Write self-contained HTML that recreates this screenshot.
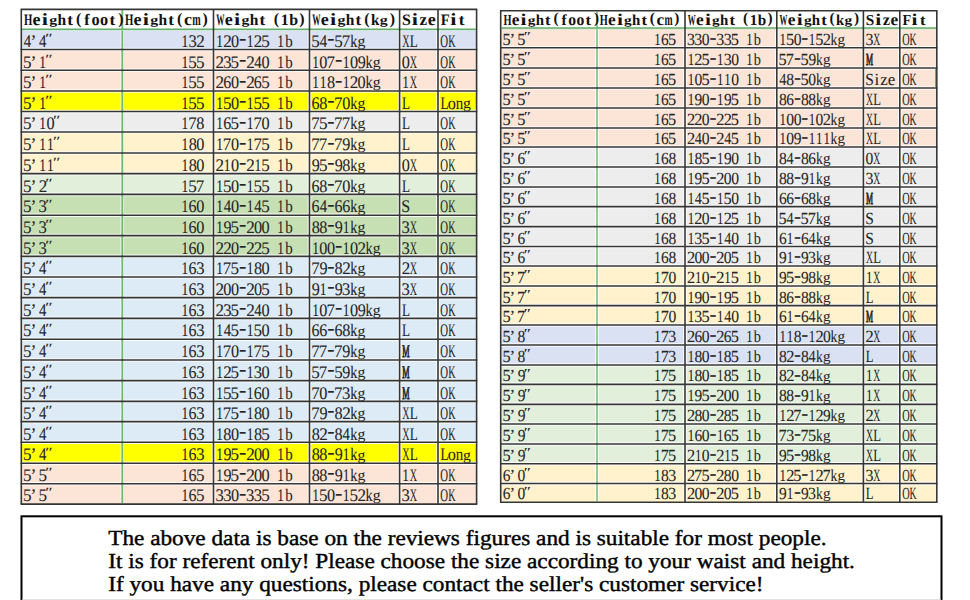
<!DOCTYPE html><html><head><meta charset="utf-8"><style>html,body{margin:0;padding:0;background:#fff;overflow:hidden}svg{display:block}</style></head><body>
<svg width="970" height="600" viewBox="0 0 970 600" text-rendering="geometricPrecision">
<rect width="970" height="600" fill="#fff"/>
<rect x="21.3" y="9.4" width="455.3" height="19.799999999999997" fill="#fff"/>
<rect x="21.3" y="29.2" width="455.3" height="20.30" fill="#d9e1f2"/>
<rect x="21.3" y="49.5" width="455.3" height="20.80" fill="#fce4d6"/>
<rect x="21.3" y="70.3" width="455.3" height="20.70" fill="#fce4d6"/>
<rect x="21.3" y="91" width="455.3" height="20.50" fill="#ffff00"/>
<rect x="21.3" y="111.5" width="455.3" height="20.50" fill="#ededed"/>
<rect x="21.3" y="132" width="455.3" height="21.00" fill="#fff2cc"/>
<rect x="21.3" y="153" width="455.3" height="20.60" fill="#fff2cc"/>
<rect x="21.3" y="173.6" width="455.3" height="20.80" fill="#e2efda"/>
<rect x="21.3" y="194.4" width="455.3" height="20.80" fill="#c6e0b4"/>
<rect x="21.3" y="215.2" width="455.3" height="20.40" fill="#c6e0b4"/>
<rect x="21.3" y="235.6" width="455.3" height="20.80" fill="#c6e0b4"/>
<rect x="21.3" y="256.4" width="455.3" height="20.60" fill="#ddebf7"/>
<rect x="21.3" y="277" width="455.3" height="20.60" fill="#ddebf7"/>
<rect x="21.3" y="297.6" width="455.3" height="20.80" fill="#ddebf7"/>
<rect x="21.3" y="318.4" width="455.3" height="20.80" fill="#ddebf7"/>
<rect x="21.3" y="339.2" width="455.3" height="20.80" fill="#ddebf7"/>
<rect x="21.3" y="360" width="455.3" height="20.60" fill="#ddebf7"/>
<rect x="21.3" y="380.6" width="455.3" height="20.80" fill="#ddebf7"/>
<rect x="21.3" y="401.4" width="455.3" height="20.20" fill="#ddebf7"/>
<rect x="21.3" y="421.6" width="455.3" height="20.70" fill="#ddebf7"/>
<rect x="21.3" y="442.3" width="455.3" height="20.90" fill="#ffff00"/>
<rect x="21.3" y="463.2" width="455.3" height="20.60" fill="#fce4d6"/>
<rect x="21.3" y="483.8" width="455.3" height="20.30" fill="#fce4d6"/>
<g stroke="#fff" stroke-width="3.6" fill="none" opacity="0.85">
<line x1="21.3" y1="49.5" x2="476.6" y2="49.5"/>
<line x1="21.3" y1="70.3" x2="476.6" y2="70.3"/>
<line x1="21.3" y1="91" x2="476.6" y2="91"/>
<line x1="21.3" y1="111.5" x2="476.6" y2="111.5"/>
<line x1="21.3" y1="132" x2="476.6" y2="132"/>
<line x1="21.3" y1="153" x2="476.6" y2="153"/>
<line x1="21.3" y1="173.6" x2="476.6" y2="173.6"/>
<line x1="21.3" y1="194.4" x2="476.6" y2="194.4"/>
<line x1="21.3" y1="215.2" x2="476.6" y2="215.2"/>
<line x1="21.3" y1="235.6" x2="476.6" y2="235.6"/>
<line x1="21.3" y1="256.4" x2="476.6" y2="256.4"/>
<line x1="21.3" y1="277" x2="476.6" y2="277"/>
<line x1="21.3" y1="297.6" x2="476.6" y2="297.6"/>
<line x1="21.3" y1="318.4" x2="476.6" y2="318.4"/>
<line x1="21.3" y1="339.2" x2="476.6" y2="339.2"/>
<line x1="21.3" y1="360" x2="476.6" y2="360"/>
<line x1="21.3" y1="380.6" x2="476.6" y2="380.6"/>
<line x1="21.3" y1="401.4" x2="476.6" y2="401.4"/>
<line x1="21.3" y1="421.6" x2="476.6" y2="421.6"/>
<line x1="21.3" y1="442.3" x2="476.6" y2="442.3"/>
<line x1="21.3" y1="463.2" x2="476.6" y2="463.2"/>
<line x1="21.3" y1="483.8" x2="476.6" y2="483.8"/>
<line x1="122.3" y1="29.2" x2="122.3" y2="504.1"/>
<line x1="213.5" y1="29.2" x2="213.5" y2="504.1"/>
<line x1="309.5" y1="29.2" x2="309.5" y2="504.1"/>
<line x1="399.6" y1="29.2" x2="399.6" y2="504.1"/>
<line x1="438.0" y1="29.2" x2="438.0" y2="504.1"/>
</g>
<line x1="122.3" y1="10.200000000000001" x2="122.3" y2="503.3" stroke="#6cbd70" stroke-width="1.9"/>
<line x1="22.1" y1="30.099999999999998" x2="475.8" y2="30.099999999999998" stroke="#c6ecd0" stroke-width="1"/>
<line x1="22.1" y1="29.2" x2="475.8" y2="29.2" stroke="#62ac6c" stroke-width="1.5"/>
<g stroke="#363636" stroke-width="1.6" fill="none">
<line x1="20.6" y1="9.4" x2="477.3" y2="9.4"/>
<line x1="20.6" y1="49.5" x2="477.3" y2="49.5"/>
<line x1="20.6" y1="70.3" x2="477.3" y2="70.3"/>
<line x1="20.6" y1="91" x2="477.3" y2="91"/>
<line x1="20.6" y1="111.5" x2="477.3" y2="111.5"/>
<line x1="20.6" y1="132" x2="477.3" y2="132"/>
<line x1="20.6" y1="153" x2="477.3" y2="153"/>
<line x1="20.6" y1="173.6" x2="477.3" y2="173.6"/>
<line x1="20.6" y1="194.4" x2="477.3" y2="194.4"/>
<line x1="20.6" y1="215.2" x2="477.3" y2="215.2"/>
<line x1="20.6" y1="235.6" x2="477.3" y2="235.6"/>
<line x1="20.6" y1="256.4" x2="477.3" y2="256.4"/>
<line x1="20.6" y1="277" x2="477.3" y2="277"/>
<line x1="20.6" y1="297.6" x2="477.3" y2="297.6"/>
<line x1="20.6" y1="318.4" x2="477.3" y2="318.4"/>
<line x1="20.6" y1="339.2" x2="477.3" y2="339.2"/>
<line x1="20.6" y1="360" x2="477.3" y2="360"/>
<line x1="20.6" y1="380.6" x2="477.3" y2="380.6"/>
<line x1="20.6" y1="401.4" x2="477.3" y2="401.4"/>
<line x1="20.6" y1="421.6" x2="477.3" y2="421.6"/>
<line x1="20.6" y1="442.3" x2="477.3" y2="442.3"/>
<line x1="20.6" y1="463.2" x2="477.3" y2="463.2"/>
<line x1="20.6" y1="483.8" x2="477.3" y2="483.8"/>
<line x1="20.6" y1="504.1" x2="477.3" y2="504.1"/>
<line x1="21.3" y1="9.4" x2="21.3" y2="504.1"/>
<line x1="213.5" y1="9.4" x2="213.5" y2="504.1"/>
<line x1="309.5" y1="9.4" x2="309.5" y2="504.1"/>
<line x1="399.6" y1="9.4" x2="399.6" y2="504.1"/>
<line x1="438.0" y1="9.4" x2="438.0" y2="504.1"/>
<line x1="476.6" y1="9.4" x2="476.6" y2="504.1"/>
</g>
<g font-family="Liberation Serif, serif" font-weight="bold" font-size="15.9" fill="#111">
<text transform="translate(24.03,25.30) scale(0.676,1)">H</text>
<text transform="translate(32.56,25.30) scale(1.131,1.08)">e</text>
<text transform="translate(41.87,25.30) scale(1.404,1.08)">i</text>
<text transform="translate(49.36,23.90) scale(1.000,0.78)">g</text>
<text transform="translate(57.50,25.30) scale(0.975,1)">h</text>
<text transform="translate(67.34,25.30) scale(1.084,1)">t</text>
<text x="75.99" y="23.70">(</text>
<text transform="translate(84.34,25.30) scale(1.010,1)">f</text>
<text transform="translate(91.50,25.30) scale(1.025,1.08)">o</text>
<text transform="translate(99.92,25.30) scale(1.025,1.08)">o</text>
<text transform="translate(109.44,25.30) scale(1.084,1)">t</text>
<text x="118.28" y="23.70">)</text>
<text transform="translate(125.03,25.30) scale(0.676,1)">H</text>
<text transform="translate(133.56,25.30) scale(1.131,1.08)">e</text>
<text transform="translate(142.87,25.30) scale(1.404,1.08)">i</text>
<text transform="translate(150.36,23.90) scale(1.000,0.78)">g</text>
<text transform="translate(158.50,25.30) scale(0.975,1)">h</text>
<text transform="translate(168.34,25.30) scale(1.084,1)">t</text>
<text x="176.99" y="23.70">(</text>
<text transform="translate(184.08,25.30) scale(1.129,1.08)">c</text>
<text transform="translate(192.30,25.30) scale(0.638,1.08)">m</text>
<text x="202.44" y="23.70">)</text>
<text transform="translate(216.29,25.30) scale(0.519,1)">W</text>
<text transform="translate(224.76,25.30) scale(1.131,1.08)">e</text>
<text transform="translate(234.07,25.30) scale(1.404,1.08)">i</text>
<text transform="translate(241.56,23.90) scale(1.000,0.78)">g</text>
<text transform="translate(249.70,25.30) scale(0.975,1)">h</text>
<text transform="translate(259.54,25.30) scale(1.084,1)">t</text>
<text x="273.75" y="23.70">(</text>
<text x="299.19" y="23.70">)</text>
<text x="280.71 289.13" y="25.30">1b</text>
<text transform="translate(312.29,25.30) scale(0.519,1)">W</text>
<text transform="translate(320.76,25.30) scale(1.131,1.08)">e</text>
<text transform="translate(330.07,25.30) scale(1.404,1.08)">i</text>
<text transform="translate(337.56,23.90) scale(1.000,0.78)">g</text>
<text transform="translate(345.70,25.30) scale(0.975,1)">h</text>
<text transform="translate(355.54,25.30) scale(1.084,1)">t</text>
<text x="364.19" y="23.70">(</text>
<text transform="translate(370.97,25.30) scale(0.950,1)">k</text>
<text transform="translate(379.66,23.90) scale(1.000,0.78)">g</text>
<text x="389.64" y="23.70">)</text>
<text transform="translate(411.75,25.30) scale(1.404,1.08)">i</text>
<text transform="translate(419.56,25.30) scale(1.079,1.08)">z</text>
<text transform="translate(427.70,25.30) scale(1.131,1.08)">e</text>
<text x="402.00" y="25.30">S</text>
<text transform="translate(440.66,25.30) scale(0.922,1)">F</text>
<text transform="translate(450.15,25.30) scale(1.404,1.08)">i</text>
<text transform="translate(458.78,25.30) scale(1.084,1)">t</text>
</g>
<g font-family="Liberation Serif, serif" font-size="17.7" fill="#262626" stroke="#262626" stroke-width="0.08">
<text transform="translate(23.79,46.70) scale(0.837,1)">4</text>
<text transform="translate(39.09,46.70) scale(0.837,1)">4</text>
<text transform="translate(45.26,42.89) scale(1.000,0.8)">″</text>
<text x="30.39" y="46.70">’</text>
<text transform="translate(181.52,46.70) scale(0.761,1)">1</text>
<text transform="translate(188.48,46.70) scale(0.942,1)">3</text>
<text transform="translate(196.18,46.70) scale(0.970,1)">2</text>
<text transform="translate(216.17,46.70) scale(0.761,1)">1</text>
<text transform="translate(223.18,46.70) scale(0.970,1)">2</text>
<text transform="translate(230.96,46.70) scale(0.918,1)">0</text>
<text transform="translate(239.01,45.12) scale(1.240,1.25)">-</text>
<text transform="translate(246.77,46.70) scale(0.761,1)">1</text>
<text transform="translate(253.78,46.70) scale(0.970,1)">2</text>
<text transform="translate(261.19,46.70) scale(0.966,1)">5</text>
<text transform="translate(277.37,46.70) scale(0.761,1)">1</text>
<text transform="translate(285.13,46.70) scale(0.842,1)">b</text>
<text transform="translate(311.29,46.70) scale(0.966,1)">5</text>
<text transform="translate(319.64,46.70) scale(0.837,1)">4</text>
<text transform="translate(327.36,45.12) scale(1.240,1.25)">-</text>
<text transform="translate(334.24,46.70) scale(0.966,1)">5</text>
<text transform="translate(341.76,46.70) scale(0.960,1)">7</text>
<text transform="translate(350.26,46.70) scale(0.809,1)">k</text>
<text transform="translate(357.51,45.80) scale(0.888,0.85)">g</text>
<text transform="translate(402.16,46.70) scale(0.570,1)">X</text>
<text transform="translate(409.65,46.70) scale(0.745,1)">L</text>
<text transform="translate(440.34,46.70) scale(0.608,1)">O</text>
<text transform="translate(448.14,46.70) scale(0.569,1)">K</text>
<text transform="translate(23.09,67.50) scale(0.966,1)">5</text>
<text transform="translate(39.27,67.50) scale(0.761,1)">1</text>
<text transform="translate(45.26,63.69) scale(1.000,0.8)">″</text>
<text x="30.39" y="67.50">’</text>
<text transform="translate(181.52,67.50) scale(0.761,1)">1</text>
<text transform="translate(188.29,67.50) scale(0.966,1)">5</text>
<text transform="translate(195.94,67.50) scale(0.966,1)">5</text>
<text transform="translate(215.53,67.50) scale(0.970,1)">2</text>
<text transform="translate(223.13,67.50) scale(0.942,1)">3</text>
<text transform="translate(230.59,67.50) scale(0.966,1)">5</text>
<text transform="translate(239.01,65.92) scale(1.240,1.25)">-</text>
<text transform="translate(246.13,67.50) scale(0.970,1)">2</text>
<text transform="translate(254.24,67.50) scale(0.837,1)">4</text>
<text transform="translate(261.56,67.50) scale(0.918,1)">0</text>
<text transform="translate(277.37,67.50) scale(0.761,1)">1</text>
<text transform="translate(285.13,67.50) scale(0.842,1)">b</text>
<text transform="translate(312.17,67.50) scale(0.761,1)">1</text>
<text transform="translate(319.31,67.50) scale(0.918,1)">0</text>
<text transform="translate(326.46,67.50) scale(0.960,1)">7</text>
<text transform="translate(335.01,65.92) scale(1.240,1.25)">-</text>
<text transform="translate(342.77,67.50) scale(0.761,1)">1</text>
<text transform="translate(349.91,67.50) scale(0.918,1)">0</text>
<text transform="translate(357.66,67.50) scale(0.911,1)">9</text>
<text transform="translate(365.56,67.50) scale(0.809,1)">k</text>
<text transform="translate(372.81,66.60) scale(0.888,0.85)">g</text>
<text transform="translate(401.76,67.50) scale(0.918,1)">0</text>
<text transform="translate(409.81,67.50) scale(0.570,1)">X</text>
<text transform="translate(440.34,67.50) scale(0.608,1)">O</text>
<text transform="translate(448.14,67.50) scale(0.569,1)">K</text>
<text transform="translate(23.09,88.20) scale(0.966,1)">5</text>
<text transform="translate(39.27,88.20) scale(0.761,1)">1</text>
<text transform="translate(45.26,84.39) scale(1.000,0.8)">″</text>
<text x="30.39" y="88.20">’</text>
<text transform="translate(181.52,88.20) scale(0.761,1)">1</text>
<text transform="translate(188.29,88.20) scale(0.966,1)">5</text>
<text transform="translate(195.94,88.20) scale(0.966,1)">5</text>
<text transform="translate(215.53,88.20) scale(0.970,1)">2</text>
<text transform="translate(223.24,88.20) scale(0.910,1)">6</text>
<text transform="translate(230.96,88.20) scale(0.918,1)">0</text>
<text transform="translate(239.01,86.62) scale(1.240,1.25)">-</text>
<text transform="translate(246.13,88.20) scale(0.970,1)">2</text>
<text transform="translate(253.84,88.20) scale(0.910,1)">6</text>
<text transform="translate(261.19,88.20) scale(0.966,1)">5</text>
<text transform="translate(277.37,88.20) scale(0.761,1)">1</text>
<text transform="translate(285.13,88.20) scale(0.842,1)">b</text>
<text transform="translate(312.17,88.20) scale(0.761,1)">1</text>
<text transform="translate(319.82,88.20) scale(0.761,1)">1</text>
<text transform="translate(326.96,88.20) scale(0.918,1)">8</text>
<text transform="translate(335.01,86.62) scale(1.240,1.25)">-</text>
<text transform="translate(342.77,88.20) scale(0.761,1)">1</text>
<text transform="translate(349.78,88.20) scale(0.970,1)">2</text>
<text transform="translate(357.56,88.20) scale(0.918,1)">0</text>
<text transform="translate(365.56,88.20) scale(0.809,1)">k</text>
<text transform="translate(372.81,87.30) scale(0.888,0.85)">g</text>
<text transform="translate(402.27,88.20) scale(0.761,1)">1</text>
<text transform="translate(409.81,88.20) scale(0.570,1)">X</text>
<text transform="translate(440.34,88.20) scale(0.608,1)">O</text>
<text transform="translate(448.14,88.20) scale(0.569,1)">K</text>
<text transform="translate(23.09,108.70) scale(0.966,1)">5</text>
<text transform="translate(39.27,108.70) scale(0.761,1)">1</text>
<text transform="translate(45.26,104.89) scale(1.000,0.8)">″</text>
<text x="30.39" y="108.70">’</text>
<text transform="translate(181.52,108.70) scale(0.761,1)">1</text>
<text transform="translate(188.29,108.70) scale(0.966,1)">5</text>
<text transform="translate(195.94,108.70) scale(0.966,1)">5</text>
<text transform="translate(216.17,108.70) scale(0.761,1)">1</text>
<text transform="translate(222.94,108.70) scale(0.966,1)">5</text>
<text transform="translate(230.96,108.70) scale(0.918,1)">0</text>
<text transform="translate(239.01,107.12) scale(1.240,1.25)">-</text>
<text transform="translate(246.77,108.70) scale(0.761,1)">1</text>
<text transform="translate(253.54,108.70) scale(0.966,1)">5</text>
<text transform="translate(261.19,108.70) scale(0.966,1)">5</text>
<text transform="translate(277.37,108.70) scale(0.761,1)">1</text>
<text transform="translate(285.13,108.70) scale(0.842,1)">b</text>
<text transform="translate(311.59,108.70) scale(0.910,1)">6</text>
<text transform="translate(319.31,108.70) scale(0.918,1)">8</text>
<text transform="translate(327.36,107.12) scale(1.240,1.25)">-</text>
<text transform="translate(334.11,108.70) scale(0.960,1)">7</text>
<text transform="translate(342.26,108.70) scale(0.918,1)">0</text>
<text transform="translate(350.26,108.70) scale(0.809,1)">k</text>
<text transform="translate(357.51,107.80) scale(0.888,0.85)">g</text>
<text transform="translate(402.00,108.70) scale(0.745,1)">L</text>
<text transform="translate(440.40,108.70) scale(0.745,1)">L</text>
<text transform="translate(447.81,108.70) scale(0.918,1)">o</text>
<text transform="translate(455.74,108.70) scale(0.842,1)">n</text>
<text transform="translate(463.06,107.80) scale(0.888,0.85)">g</text>
<text transform="translate(23.09,129.20) scale(0.966,1)">5</text>
<text transform="translate(39.27,129.20) scale(0.761,1)">1</text>
<text transform="translate(46.41,129.20) scale(0.918,1)">0</text>
<text transform="translate(52.91,125.39) scale(1.000,0.8)">″</text>
<text x="30.39" y="129.20">’</text>
<text transform="translate(181.52,129.20) scale(0.761,1)">1</text>
<text transform="translate(188.16,129.20) scale(0.960,1)">7</text>
<text transform="translate(196.31,129.20) scale(0.918,1)">8</text>
<text transform="translate(216.17,129.20) scale(0.761,1)">1</text>
<text transform="translate(223.24,129.20) scale(0.910,1)">6</text>
<text transform="translate(230.59,129.20) scale(0.966,1)">5</text>
<text transform="translate(239.01,127.62) scale(1.240,1.25)">-</text>
<text transform="translate(246.77,129.20) scale(0.761,1)">1</text>
<text transform="translate(253.41,129.20) scale(0.960,1)">7</text>
<text transform="translate(261.56,129.20) scale(0.918,1)">0</text>
<text transform="translate(277.37,129.20) scale(0.761,1)">1</text>
<text transform="translate(285.13,129.20) scale(0.842,1)">b</text>
<text transform="translate(311.16,129.20) scale(0.960,1)">7</text>
<text transform="translate(318.94,129.20) scale(0.966,1)">5</text>
<text transform="translate(327.36,127.62) scale(1.240,1.25)">-</text>
<text transform="translate(334.11,129.20) scale(0.960,1)">7</text>
<text transform="translate(341.76,129.20) scale(0.960,1)">7</text>
<text transform="translate(350.26,129.20) scale(0.809,1)">k</text>
<text transform="translate(357.51,128.30) scale(0.888,0.85)">g</text>
<text transform="translate(402.00,129.20) scale(0.745,1)">L</text>
<text transform="translate(440.34,129.20) scale(0.608,1)">O</text>
<text transform="translate(448.14,129.20) scale(0.569,1)">K</text>
<text transform="translate(23.09,150.20) scale(0.966,1)">5</text>
<text transform="translate(39.27,150.20) scale(0.761,1)">1</text>
<text transform="translate(46.92,150.20) scale(0.761,1)">1</text>
<text transform="translate(52.91,146.39) scale(1.000,0.8)">″</text>
<text x="30.39" y="150.20">’</text>
<text transform="translate(181.52,150.20) scale(0.761,1)">1</text>
<text transform="translate(188.66,150.20) scale(0.918,1)">8</text>
<text transform="translate(196.31,150.20) scale(0.918,1)">0</text>
<text transform="translate(216.17,150.20) scale(0.761,1)">1</text>
<text transform="translate(222.81,150.20) scale(0.960,1)">7</text>
<text transform="translate(230.96,150.20) scale(0.918,1)">0</text>
<text transform="translate(239.01,148.62) scale(1.240,1.25)">-</text>
<text transform="translate(246.77,150.20) scale(0.761,1)">1</text>
<text transform="translate(253.41,150.20) scale(0.960,1)">7</text>
<text transform="translate(261.19,150.20) scale(0.966,1)">5</text>
<text transform="translate(277.37,150.20) scale(0.761,1)">1</text>
<text transform="translate(285.13,150.20) scale(0.842,1)">b</text>
<text transform="translate(311.16,150.20) scale(0.960,1)">7</text>
<text transform="translate(318.81,150.20) scale(0.960,1)">7</text>
<text transform="translate(327.36,148.62) scale(1.240,1.25)">-</text>
<text transform="translate(334.11,150.20) scale(0.960,1)">7</text>
<text transform="translate(342.36,150.20) scale(0.911,1)">9</text>
<text transform="translate(350.26,150.20) scale(0.809,1)">k</text>
<text transform="translate(357.51,149.30) scale(0.888,0.85)">g</text>
<text transform="translate(402.00,150.20) scale(0.745,1)">L</text>
<text transform="translate(440.34,150.20) scale(0.608,1)">O</text>
<text transform="translate(448.14,150.20) scale(0.569,1)">K</text>
<text transform="translate(23.09,170.80) scale(0.966,1)">5</text>
<text transform="translate(39.27,170.80) scale(0.761,1)">1</text>
<text transform="translate(46.92,170.80) scale(0.761,1)">1</text>
<text transform="translate(52.91,166.99) scale(1.000,0.8)">″</text>
<text x="30.39" y="170.80">’</text>
<text transform="translate(181.52,170.80) scale(0.761,1)">1</text>
<text transform="translate(188.66,170.80) scale(0.918,1)">8</text>
<text transform="translate(196.31,170.80) scale(0.918,1)">0</text>
<text transform="translate(215.53,170.80) scale(0.970,1)">2</text>
<text transform="translate(223.82,170.80) scale(0.761,1)">1</text>
<text transform="translate(230.96,170.80) scale(0.918,1)">0</text>
<text transform="translate(239.01,169.22) scale(1.240,1.25)">-</text>
<text transform="translate(246.13,170.80) scale(0.970,1)">2</text>
<text transform="translate(254.42,170.80) scale(0.761,1)">1</text>
<text transform="translate(261.19,170.80) scale(0.966,1)">5</text>
<text transform="translate(277.37,170.80) scale(0.761,1)">1</text>
<text transform="translate(285.13,170.80) scale(0.842,1)">b</text>
<text transform="translate(311.76,170.80) scale(0.911,1)">9</text>
<text transform="translate(318.94,170.80) scale(0.966,1)">5</text>
<text transform="translate(327.36,169.22) scale(1.240,1.25)">-</text>
<text transform="translate(334.71,170.80) scale(0.911,1)">9</text>
<text transform="translate(342.26,170.80) scale(0.918,1)">8</text>
<text transform="translate(350.26,170.80) scale(0.809,1)">k</text>
<text transform="translate(357.51,169.90) scale(0.888,0.85)">g</text>
<text transform="translate(401.76,170.80) scale(0.918,1)">0</text>
<text transform="translate(409.81,170.80) scale(0.570,1)">X</text>
<text transform="translate(440.34,170.80) scale(0.608,1)">O</text>
<text transform="translate(448.14,170.80) scale(0.569,1)">K</text>
<text transform="translate(23.09,191.60) scale(0.966,1)">5</text>
<text transform="translate(38.63,191.60) scale(0.970,1)">2</text>
<text transform="translate(45.26,187.79) scale(1.000,0.8)">″</text>
<text x="30.39" y="191.60">’</text>
<text transform="translate(181.52,191.60) scale(0.761,1)">1</text>
<text transform="translate(188.29,191.60) scale(0.966,1)">5</text>
<text transform="translate(195.81,191.60) scale(0.960,1)">7</text>
<text transform="translate(216.17,191.60) scale(0.761,1)">1</text>
<text transform="translate(222.94,191.60) scale(0.966,1)">5</text>
<text transform="translate(230.96,191.60) scale(0.918,1)">0</text>
<text transform="translate(239.01,190.02) scale(1.240,1.25)">-</text>
<text transform="translate(246.77,191.60) scale(0.761,1)">1</text>
<text transform="translate(253.54,191.60) scale(0.966,1)">5</text>
<text transform="translate(261.19,191.60) scale(0.966,1)">5</text>
<text transform="translate(277.37,191.60) scale(0.761,1)">1</text>
<text transform="translate(285.13,191.60) scale(0.842,1)">b</text>
<text transform="translate(311.59,191.60) scale(0.910,1)">6</text>
<text transform="translate(319.31,191.60) scale(0.918,1)">8</text>
<text transform="translate(327.36,190.02) scale(1.240,1.25)">-</text>
<text transform="translate(334.11,191.60) scale(0.960,1)">7</text>
<text transform="translate(342.26,191.60) scale(0.918,1)">0</text>
<text transform="translate(350.26,191.60) scale(0.809,1)">k</text>
<text transform="translate(357.51,190.70) scale(0.888,0.85)">g</text>
<text transform="translate(402.00,191.60) scale(0.745,1)">L</text>
<text transform="translate(440.34,191.60) scale(0.608,1)">O</text>
<text transform="translate(448.14,191.60) scale(0.569,1)">K</text>
<text transform="translate(23.09,212.40) scale(0.966,1)">5</text>
<text transform="translate(38.58,212.40) scale(0.942,1)">3</text>
<text transform="translate(45.26,208.59) scale(1.000,0.8)">″</text>
<text x="30.39" y="212.40">’</text>
<text transform="translate(181.52,212.40) scale(0.761,1)">1</text>
<text transform="translate(188.59,212.40) scale(0.910,1)">6</text>
<text transform="translate(196.31,212.40) scale(0.918,1)">0</text>
<text transform="translate(216.17,212.40) scale(0.761,1)">1</text>
<text transform="translate(223.64,212.40) scale(0.837,1)">4</text>
<text transform="translate(230.96,212.40) scale(0.918,1)">0</text>
<text transform="translate(239.01,210.82) scale(1.240,1.25)">-</text>
<text transform="translate(246.77,212.40) scale(0.761,1)">1</text>
<text transform="translate(254.24,212.40) scale(0.837,1)">4</text>
<text transform="translate(261.19,212.40) scale(0.966,1)">5</text>
<text transform="translate(277.37,212.40) scale(0.761,1)">1</text>
<text transform="translate(285.13,212.40) scale(0.842,1)">b</text>
<text transform="translate(311.59,212.40) scale(0.910,1)">6</text>
<text transform="translate(319.64,212.40) scale(0.837,1)">4</text>
<text transform="translate(327.36,210.82) scale(1.240,1.25)">-</text>
<text transform="translate(334.54,212.40) scale(0.910,1)">6</text>
<text transform="translate(342.19,212.40) scale(0.910,1)">6</text>
<text transform="translate(350.26,212.40) scale(0.809,1)">k</text>
<text transform="translate(357.51,211.50) scale(0.888,0.85)">g</text>
<text transform="translate(401.30,212.40) scale(0.910,1)">S</text>
<text transform="translate(440.34,212.40) scale(0.608,1)">O</text>
<text transform="translate(448.14,212.40) scale(0.569,1)">K</text>
<text transform="translate(23.09,232.80) scale(0.966,1)">5</text>
<text transform="translate(38.58,232.80) scale(0.942,1)">3</text>
<text transform="translate(45.26,228.99) scale(1.000,0.8)">″</text>
<text x="30.39" y="232.80">’</text>
<text transform="translate(181.52,232.80) scale(0.761,1)">1</text>
<text transform="translate(188.59,232.80) scale(0.910,1)">6</text>
<text transform="translate(196.31,232.80) scale(0.918,1)">0</text>
<text transform="translate(216.17,232.80) scale(0.761,1)">1</text>
<text transform="translate(223.41,232.80) scale(0.911,1)">9</text>
<text transform="translate(230.59,232.80) scale(0.966,1)">5</text>
<text transform="translate(239.01,231.22) scale(1.240,1.25)">-</text>
<text transform="translate(246.13,232.80) scale(0.970,1)">2</text>
<text transform="translate(253.91,232.80) scale(0.918,1)">0</text>
<text transform="translate(261.56,232.80) scale(0.918,1)">0</text>
<text transform="translate(277.37,232.80) scale(0.761,1)">1</text>
<text transform="translate(285.13,232.80) scale(0.842,1)">b</text>
<text transform="translate(311.66,232.80) scale(0.918,1)">8</text>
<text transform="translate(319.31,232.80) scale(0.918,1)">8</text>
<text transform="translate(327.36,231.22) scale(1.240,1.25)">-</text>
<text transform="translate(334.71,232.80) scale(0.911,1)">9</text>
<text transform="translate(342.77,232.80) scale(0.761,1)">1</text>
<text transform="translate(350.26,232.80) scale(0.809,1)">k</text>
<text transform="translate(357.51,231.90) scale(0.888,0.85)">g</text>
<text transform="translate(401.58,232.80) scale(0.942,1)">3</text>
<text transform="translate(409.81,232.80) scale(0.570,1)">X</text>
<text transform="translate(440.34,232.80) scale(0.608,1)">O</text>
<text transform="translate(448.14,232.80) scale(0.569,1)">K</text>
<text transform="translate(23.09,253.60) scale(0.966,1)">5</text>
<text transform="translate(38.58,253.60) scale(0.942,1)">3</text>
<text transform="translate(45.26,249.79) scale(1.000,0.8)">″</text>
<text x="30.39" y="253.60">’</text>
<text transform="translate(181.52,253.60) scale(0.761,1)">1</text>
<text transform="translate(188.59,253.60) scale(0.910,1)">6</text>
<text transform="translate(196.31,253.60) scale(0.918,1)">0</text>
<text transform="translate(215.53,253.60) scale(0.970,1)">2</text>
<text transform="translate(223.18,253.60) scale(0.970,1)">2</text>
<text transform="translate(230.96,253.60) scale(0.918,1)">0</text>
<text transform="translate(239.01,252.02) scale(1.240,1.25)">-</text>
<text transform="translate(246.13,253.60) scale(0.970,1)">2</text>
<text transform="translate(253.78,253.60) scale(0.970,1)">2</text>
<text transform="translate(261.19,253.60) scale(0.966,1)">5</text>
<text transform="translate(277.37,253.60) scale(0.761,1)">1</text>
<text transform="translate(285.13,253.60) scale(0.842,1)">b</text>
<text transform="translate(312.17,253.60) scale(0.761,1)">1</text>
<text transform="translate(319.31,253.60) scale(0.918,1)">0</text>
<text transform="translate(326.96,253.60) scale(0.918,1)">0</text>
<text transform="translate(335.01,252.02) scale(1.240,1.25)">-</text>
<text transform="translate(342.77,253.60) scale(0.761,1)">1</text>
<text transform="translate(349.91,253.60) scale(0.918,1)">0</text>
<text transform="translate(357.43,253.60) scale(0.970,1)">2</text>
<text transform="translate(365.56,253.60) scale(0.809,1)">k</text>
<text transform="translate(372.81,252.70) scale(0.888,0.85)">g</text>
<text transform="translate(401.58,253.60) scale(0.942,1)">3</text>
<text transform="translate(409.81,253.60) scale(0.570,1)">X</text>
<text transform="translate(440.34,253.60) scale(0.608,1)">O</text>
<text transform="translate(448.14,253.60) scale(0.569,1)">K</text>
<text transform="translate(23.09,274.20) scale(0.966,1)">5</text>
<text transform="translate(39.09,274.20) scale(0.837,1)">4</text>
<text transform="translate(45.26,270.39) scale(1.000,0.8)">″</text>
<text x="30.39" y="274.20">’</text>
<text transform="translate(181.52,274.20) scale(0.761,1)">1</text>
<text transform="translate(188.59,274.20) scale(0.910,1)">6</text>
<text transform="translate(196.13,274.20) scale(0.942,1)">3</text>
<text transform="translate(216.17,274.20) scale(0.761,1)">1</text>
<text transform="translate(222.81,274.20) scale(0.960,1)">7</text>
<text transform="translate(230.59,274.20) scale(0.966,1)">5</text>
<text transform="translate(239.01,272.62) scale(1.240,1.25)">-</text>
<text transform="translate(246.77,274.20) scale(0.761,1)">1</text>
<text transform="translate(253.91,274.20) scale(0.918,1)">8</text>
<text transform="translate(261.56,274.20) scale(0.918,1)">0</text>
<text transform="translate(277.37,274.20) scale(0.761,1)">1</text>
<text transform="translate(285.13,274.20) scale(0.842,1)">b</text>
<text transform="translate(311.16,274.20) scale(0.960,1)">7</text>
<text transform="translate(319.41,274.20) scale(0.911,1)">9</text>
<text transform="translate(327.36,272.62) scale(1.240,1.25)">-</text>
<text transform="translate(334.61,274.20) scale(0.918,1)">8</text>
<text transform="translate(342.13,274.20) scale(0.970,1)">2</text>
<text transform="translate(350.26,274.20) scale(0.809,1)">k</text>
<text transform="translate(357.51,273.30) scale(0.888,0.85)">g</text>
<text transform="translate(401.63,274.20) scale(0.970,1)">2</text>
<text transform="translate(409.81,274.20) scale(0.570,1)">X</text>
<text transform="translate(440.34,274.20) scale(0.608,1)">O</text>
<text transform="translate(448.14,274.20) scale(0.569,1)">K</text>
<text transform="translate(23.09,294.80) scale(0.966,1)">5</text>
<text transform="translate(39.09,294.80) scale(0.837,1)">4</text>
<text transform="translate(45.26,290.99) scale(1.000,0.8)">″</text>
<text x="30.39" y="294.80">’</text>
<text transform="translate(181.52,294.80) scale(0.761,1)">1</text>
<text transform="translate(188.59,294.80) scale(0.910,1)">6</text>
<text transform="translate(196.13,294.80) scale(0.942,1)">3</text>
<text transform="translate(215.53,294.80) scale(0.970,1)">2</text>
<text transform="translate(223.31,294.80) scale(0.918,1)">0</text>
<text transform="translate(230.96,294.80) scale(0.918,1)">0</text>
<text transform="translate(239.01,293.22) scale(1.240,1.25)">-</text>
<text transform="translate(246.13,294.80) scale(0.970,1)">2</text>
<text transform="translate(253.91,294.80) scale(0.918,1)">0</text>
<text transform="translate(261.19,294.80) scale(0.966,1)">5</text>
<text transform="translate(277.37,294.80) scale(0.761,1)">1</text>
<text transform="translate(285.13,294.80) scale(0.842,1)">b</text>
<text transform="translate(311.76,294.80) scale(0.911,1)">9</text>
<text transform="translate(319.82,294.80) scale(0.761,1)">1</text>
<text transform="translate(327.36,293.22) scale(1.240,1.25)">-</text>
<text transform="translate(334.71,294.80) scale(0.911,1)">9</text>
<text transform="translate(342.08,294.80) scale(0.942,1)">3</text>
<text transform="translate(350.26,294.80) scale(0.809,1)">k</text>
<text transform="translate(357.51,293.90) scale(0.888,0.85)">g</text>
<text transform="translate(401.58,294.80) scale(0.942,1)">3</text>
<text transform="translate(409.81,294.80) scale(0.570,1)">X</text>
<text transform="translate(440.34,294.80) scale(0.608,1)">O</text>
<text transform="translate(448.14,294.80) scale(0.569,1)">K</text>
<text transform="translate(23.09,315.60) scale(0.966,1)">5</text>
<text transform="translate(39.09,315.60) scale(0.837,1)">4</text>
<text transform="translate(45.26,311.79) scale(1.000,0.8)">″</text>
<text x="30.39" y="315.60">’</text>
<text transform="translate(181.52,315.60) scale(0.761,1)">1</text>
<text transform="translate(188.59,315.60) scale(0.910,1)">6</text>
<text transform="translate(196.13,315.60) scale(0.942,1)">3</text>
<text transform="translate(215.53,315.60) scale(0.970,1)">2</text>
<text transform="translate(223.13,315.60) scale(0.942,1)">3</text>
<text transform="translate(230.59,315.60) scale(0.966,1)">5</text>
<text transform="translate(239.01,314.02) scale(1.240,1.25)">-</text>
<text transform="translate(246.13,315.60) scale(0.970,1)">2</text>
<text transform="translate(254.24,315.60) scale(0.837,1)">4</text>
<text transform="translate(261.56,315.60) scale(0.918,1)">0</text>
<text transform="translate(277.37,315.60) scale(0.761,1)">1</text>
<text transform="translate(285.13,315.60) scale(0.842,1)">b</text>
<text transform="translate(312.17,315.60) scale(0.761,1)">1</text>
<text transform="translate(319.31,315.60) scale(0.918,1)">0</text>
<text transform="translate(326.46,315.60) scale(0.960,1)">7</text>
<text transform="translate(335.01,314.02) scale(1.240,1.25)">-</text>
<text transform="translate(342.77,315.60) scale(0.761,1)">1</text>
<text transform="translate(349.91,315.60) scale(0.918,1)">0</text>
<text transform="translate(357.66,315.60) scale(0.911,1)">9</text>
<text transform="translate(365.56,315.60) scale(0.809,1)">k</text>
<text transform="translate(372.81,314.70) scale(0.888,0.85)">g</text>
<text transform="translate(402.00,315.60) scale(0.745,1)">L</text>
<text transform="translate(440.34,315.60) scale(0.608,1)">O</text>
<text transform="translate(448.14,315.60) scale(0.569,1)">K</text>
<text transform="translate(23.09,336.40) scale(0.966,1)">5</text>
<text transform="translate(39.09,336.40) scale(0.837,1)">4</text>
<text transform="translate(45.26,332.59) scale(1.000,0.8)">″</text>
<text x="30.39" y="336.40">’</text>
<text transform="translate(181.52,336.40) scale(0.761,1)">1</text>
<text transform="translate(188.59,336.40) scale(0.910,1)">6</text>
<text transform="translate(196.13,336.40) scale(0.942,1)">3</text>
<text transform="translate(216.17,336.40) scale(0.761,1)">1</text>
<text transform="translate(223.64,336.40) scale(0.837,1)">4</text>
<text transform="translate(230.59,336.40) scale(0.966,1)">5</text>
<text transform="translate(239.01,334.82) scale(1.240,1.25)">-</text>
<text transform="translate(246.77,336.40) scale(0.761,1)">1</text>
<text transform="translate(253.54,336.40) scale(0.966,1)">5</text>
<text transform="translate(261.56,336.40) scale(0.918,1)">0</text>
<text transform="translate(277.37,336.40) scale(0.761,1)">1</text>
<text transform="translate(285.13,336.40) scale(0.842,1)">b</text>
<text transform="translate(311.59,336.40) scale(0.910,1)">6</text>
<text transform="translate(319.24,336.40) scale(0.910,1)">6</text>
<text transform="translate(327.36,334.82) scale(1.240,1.25)">-</text>
<text transform="translate(334.54,336.40) scale(0.910,1)">6</text>
<text transform="translate(342.26,336.40) scale(0.918,1)">8</text>
<text transform="translate(350.26,336.40) scale(0.809,1)">k</text>
<text transform="translate(357.51,335.50) scale(0.888,0.85)">g</text>
<text transform="translate(402.00,336.40) scale(0.745,1)">L</text>
<text transform="translate(440.34,336.40) scale(0.608,1)">O</text>
<text transform="translate(448.14,336.40) scale(0.569,1)">K</text>
<text transform="translate(23.09,357.20) scale(0.966,1)">5</text>
<text transform="translate(39.09,357.20) scale(0.837,1)">4</text>
<text transform="translate(45.26,353.39) scale(1.000,0.8)">″</text>
<text x="30.39" y="357.20">’</text>
<text transform="translate(181.52,357.20) scale(0.761,1)">1</text>
<text transform="translate(188.59,357.20) scale(0.910,1)">6</text>
<text transform="translate(196.13,357.20) scale(0.942,1)">3</text>
<text transform="translate(216.17,357.20) scale(0.761,1)">1</text>
<text transform="translate(222.81,357.20) scale(0.960,1)">7</text>
<text transform="translate(230.96,357.20) scale(0.918,1)">0</text>
<text transform="translate(239.01,355.62) scale(1.240,1.25)">-</text>
<text transform="translate(246.77,357.20) scale(0.761,1)">1</text>
<text transform="translate(253.41,357.20) scale(0.960,1)">7</text>
<text transform="translate(261.19,357.20) scale(0.966,1)">5</text>
<text transform="translate(277.37,357.20) scale(0.761,1)">1</text>
<text transform="translate(285.13,357.20) scale(0.842,1)">b</text>
<text transform="translate(311.16,357.20) scale(0.960,1)">7</text>
<text transform="translate(318.81,357.20) scale(0.960,1)">7</text>
<text transform="translate(327.36,355.62) scale(1.240,1.25)">-</text>
<text transform="translate(334.11,357.20) scale(0.960,1)">7</text>
<text transform="translate(342.36,357.20) scale(0.911,1)">9</text>
<text transform="translate(350.26,357.20) scale(0.809,1)">k</text>
<text transform="translate(357.51,356.30) scale(0.888,0.85)">g</text>
<text transform="translate(402.14,357.20) scale(0.468,1)" stroke-width="0.9" vector-effect="non-scaling-stroke">M</text>
<text transform="translate(440.34,357.20) scale(0.608,1)">O</text>
<text transform="translate(448.14,357.20) scale(0.569,1)">K</text>
<text transform="translate(23.09,377.80) scale(0.966,1)">5</text>
<text transform="translate(39.09,377.80) scale(0.837,1)">4</text>
<text transform="translate(45.26,373.99) scale(1.000,0.8)">″</text>
<text x="30.39" y="377.80">’</text>
<text transform="translate(181.52,377.80) scale(0.761,1)">1</text>
<text transform="translate(188.59,377.80) scale(0.910,1)">6</text>
<text transform="translate(196.13,377.80) scale(0.942,1)">3</text>
<text transform="translate(216.17,377.80) scale(0.761,1)">1</text>
<text transform="translate(223.18,377.80) scale(0.970,1)">2</text>
<text transform="translate(230.59,377.80) scale(0.966,1)">5</text>
<text transform="translate(239.01,376.22) scale(1.240,1.25)">-</text>
<text transform="translate(246.77,377.80) scale(0.761,1)">1</text>
<text transform="translate(253.73,377.80) scale(0.942,1)">3</text>
<text transform="translate(261.56,377.80) scale(0.918,1)">0</text>
<text transform="translate(277.37,377.80) scale(0.761,1)">1</text>
<text transform="translate(285.13,377.80) scale(0.842,1)">b</text>
<text transform="translate(311.29,377.80) scale(0.966,1)">5</text>
<text transform="translate(318.81,377.80) scale(0.960,1)">7</text>
<text transform="translate(327.36,376.22) scale(1.240,1.25)">-</text>
<text transform="translate(334.24,377.80) scale(0.966,1)">5</text>
<text transform="translate(342.36,377.80) scale(0.911,1)">9</text>
<text transform="translate(350.26,377.80) scale(0.809,1)">k</text>
<text transform="translate(357.51,376.90) scale(0.888,0.85)">g</text>
<text transform="translate(402.14,377.80) scale(0.468,1)" stroke-width="0.9" vector-effect="non-scaling-stroke">M</text>
<text transform="translate(440.34,377.80) scale(0.608,1)">O</text>
<text transform="translate(448.14,377.80) scale(0.569,1)">K</text>
<text transform="translate(23.09,398.60) scale(0.966,1)">5</text>
<text transform="translate(39.09,398.60) scale(0.837,1)">4</text>
<text transform="translate(45.26,394.79) scale(1.000,0.8)">″</text>
<text x="30.39" y="398.60">’</text>
<text transform="translate(181.52,398.60) scale(0.761,1)">1</text>
<text transform="translate(188.59,398.60) scale(0.910,1)">6</text>
<text transform="translate(196.13,398.60) scale(0.942,1)">3</text>
<text transform="translate(216.17,398.60) scale(0.761,1)">1</text>
<text transform="translate(222.94,398.60) scale(0.966,1)">5</text>
<text transform="translate(230.59,398.60) scale(0.966,1)">5</text>
<text transform="translate(239.01,397.02) scale(1.240,1.25)">-</text>
<text transform="translate(246.77,398.60) scale(0.761,1)">1</text>
<text transform="translate(253.84,398.60) scale(0.910,1)">6</text>
<text transform="translate(261.56,398.60) scale(0.918,1)">0</text>
<text transform="translate(277.37,398.60) scale(0.761,1)">1</text>
<text transform="translate(285.13,398.60) scale(0.842,1)">b</text>
<text transform="translate(311.16,398.60) scale(0.960,1)">7</text>
<text transform="translate(319.31,398.60) scale(0.918,1)">0</text>
<text transform="translate(327.36,397.02) scale(1.240,1.25)">-</text>
<text transform="translate(334.11,398.60) scale(0.960,1)">7</text>
<text transform="translate(342.08,398.60) scale(0.942,1)">3</text>
<text transform="translate(350.26,398.60) scale(0.809,1)">k</text>
<text transform="translate(357.51,397.70) scale(0.888,0.85)">g</text>
<text transform="translate(402.14,398.60) scale(0.468,1)" stroke-width="0.9" vector-effect="non-scaling-stroke">M</text>
<text transform="translate(440.34,398.60) scale(0.608,1)">O</text>
<text transform="translate(448.14,398.60) scale(0.569,1)">K</text>
<text transform="translate(23.09,418.80) scale(0.966,1)">5</text>
<text transform="translate(39.09,418.80) scale(0.837,1)">4</text>
<text transform="translate(45.26,414.99) scale(1.000,0.8)">″</text>
<text x="30.39" y="418.80">’</text>
<text transform="translate(181.52,418.80) scale(0.761,1)">1</text>
<text transform="translate(188.59,418.80) scale(0.910,1)">6</text>
<text transform="translate(196.13,418.80) scale(0.942,1)">3</text>
<text transform="translate(216.17,418.80) scale(0.761,1)">1</text>
<text transform="translate(222.81,418.80) scale(0.960,1)">7</text>
<text transform="translate(230.59,418.80) scale(0.966,1)">5</text>
<text transform="translate(239.01,417.22) scale(1.240,1.25)">-</text>
<text transform="translate(246.77,418.80) scale(0.761,1)">1</text>
<text transform="translate(253.91,418.80) scale(0.918,1)">8</text>
<text transform="translate(261.56,418.80) scale(0.918,1)">0</text>
<text transform="translate(277.37,418.80) scale(0.761,1)">1</text>
<text transform="translate(285.13,418.80) scale(0.842,1)">b</text>
<text transform="translate(311.16,418.80) scale(0.960,1)">7</text>
<text transform="translate(319.41,418.80) scale(0.911,1)">9</text>
<text transform="translate(327.36,417.22) scale(1.240,1.25)">-</text>
<text transform="translate(334.61,418.80) scale(0.918,1)">8</text>
<text transform="translate(342.13,418.80) scale(0.970,1)">2</text>
<text transform="translate(350.26,418.80) scale(0.809,1)">k</text>
<text transform="translate(357.51,417.90) scale(0.888,0.85)">g</text>
<text transform="translate(402.16,418.80) scale(0.570,1)">X</text>
<text transform="translate(409.65,418.80) scale(0.745,1)">L</text>
<text transform="translate(440.34,418.80) scale(0.608,1)">O</text>
<text transform="translate(448.14,418.80) scale(0.569,1)">K</text>
<text transform="translate(23.09,439.50) scale(0.966,1)">5</text>
<text transform="translate(39.09,439.50) scale(0.837,1)">4</text>
<text transform="translate(45.26,435.69) scale(1.000,0.8)">″</text>
<text x="30.39" y="439.50">’</text>
<text transform="translate(181.52,439.50) scale(0.761,1)">1</text>
<text transform="translate(188.59,439.50) scale(0.910,1)">6</text>
<text transform="translate(196.13,439.50) scale(0.942,1)">3</text>
<text transform="translate(216.17,439.50) scale(0.761,1)">1</text>
<text transform="translate(223.31,439.50) scale(0.918,1)">8</text>
<text transform="translate(230.96,439.50) scale(0.918,1)">0</text>
<text transform="translate(239.01,437.92) scale(1.240,1.25)">-</text>
<text transform="translate(246.77,439.50) scale(0.761,1)">1</text>
<text transform="translate(253.91,439.50) scale(0.918,1)">8</text>
<text transform="translate(261.19,439.50) scale(0.966,1)">5</text>
<text transform="translate(277.37,439.50) scale(0.761,1)">1</text>
<text transform="translate(285.13,439.50) scale(0.842,1)">b</text>
<text transform="translate(311.66,439.50) scale(0.918,1)">8</text>
<text transform="translate(319.18,439.50) scale(0.970,1)">2</text>
<text transform="translate(327.36,437.92) scale(1.240,1.25)">-</text>
<text transform="translate(334.61,439.50) scale(0.918,1)">8</text>
<text transform="translate(342.59,439.50) scale(0.837,1)">4</text>
<text transform="translate(350.26,439.50) scale(0.809,1)">k</text>
<text transform="translate(357.51,438.60) scale(0.888,0.85)">g</text>
<text transform="translate(402.16,439.50) scale(0.570,1)">X</text>
<text transform="translate(409.65,439.50) scale(0.745,1)">L</text>
<text transform="translate(440.34,439.50) scale(0.608,1)">O</text>
<text transform="translate(448.14,439.50) scale(0.569,1)">K</text>
<text transform="translate(23.09,460.40) scale(0.966,1)">5</text>
<text transform="translate(39.09,460.40) scale(0.837,1)">4</text>
<text transform="translate(45.26,456.59) scale(1.000,0.8)">″</text>
<text x="30.39" y="460.40">’</text>
<text transform="translate(181.52,460.40) scale(0.761,1)">1</text>
<text transform="translate(188.59,460.40) scale(0.910,1)">6</text>
<text transform="translate(196.13,460.40) scale(0.942,1)">3</text>
<text transform="translate(216.17,460.40) scale(0.761,1)">1</text>
<text transform="translate(223.41,460.40) scale(0.911,1)">9</text>
<text transform="translate(230.59,460.40) scale(0.966,1)">5</text>
<text transform="translate(239.01,458.82) scale(1.240,1.25)">-</text>
<text transform="translate(246.13,460.40) scale(0.970,1)">2</text>
<text transform="translate(253.91,460.40) scale(0.918,1)">0</text>
<text transform="translate(261.56,460.40) scale(0.918,1)">0</text>
<text transform="translate(277.37,460.40) scale(0.761,1)">1</text>
<text transform="translate(285.13,460.40) scale(0.842,1)">b</text>
<text transform="translate(311.66,460.40) scale(0.918,1)">8</text>
<text transform="translate(319.31,460.40) scale(0.918,1)">8</text>
<text transform="translate(327.36,458.82) scale(1.240,1.25)">-</text>
<text transform="translate(334.71,460.40) scale(0.911,1)">9</text>
<text transform="translate(342.77,460.40) scale(0.761,1)">1</text>
<text transform="translate(350.26,460.40) scale(0.809,1)">k</text>
<text transform="translate(357.51,459.50) scale(0.888,0.85)">g</text>
<text transform="translate(402.16,460.40) scale(0.570,1)">X</text>
<text transform="translate(409.65,460.40) scale(0.745,1)">L</text>
<text transform="translate(440.40,460.40) scale(0.745,1)">L</text>
<text transform="translate(447.81,460.40) scale(0.918,1)">o</text>
<text transform="translate(455.74,460.40) scale(0.842,1)">n</text>
<text transform="translate(463.06,459.50) scale(0.888,0.85)">g</text>
<text transform="translate(23.09,481.00) scale(0.966,1)">5</text>
<text transform="translate(38.39,481.00) scale(0.966,1)">5</text>
<text transform="translate(45.26,477.19) scale(1.000,0.8)">″</text>
<text x="30.39" y="481.00">’</text>
<text transform="translate(181.52,481.00) scale(0.761,1)">1</text>
<text transform="translate(188.59,481.00) scale(0.910,1)">6</text>
<text transform="translate(195.94,481.00) scale(0.966,1)">5</text>
<text transform="translate(216.17,481.00) scale(0.761,1)">1</text>
<text transform="translate(223.41,481.00) scale(0.911,1)">9</text>
<text transform="translate(230.59,481.00) scale(0.966,1)">5</text>
<text transform="translate(239.01,479.42) scale(1.240,1.25)">-</text>
<text transform="translate(246.13,481.00) scale(0.970,1)">2</text>
<text transform="translate(253.91,481.00) scale(0.918,1)">0</text>
<text transform="translate(261.56,481.00) scale(0.918,1)">0</text>
<text transform="translate(277.37,481.00) scale(0.761,1)">1</text>
<text transform="translate(285.13,481.00) scale(0.842,1)">b</text>
<text transform="translate(311.66,481.00) scale(0.918,1)">8</text>
<text transform="translate(319.31,481.00) scale(0.918,1)">8</text>
<text transform="translate(327.36,479.42) scale(1.240,1.25)">-</text>
<text transform="translate(334.71,481.00) scale(0.911,1)">9</text>
<text transform="translate(342.77,481.00) scale(0.761,1)">1</text>
<text transform="translate(350.26,481.00) scale(0.809,1)">k</text>
<text transform="translate(357.51,480.10) scale(0.888,0.85)">g</text>
<text transform="translate(402.27,481.00) scale(0.761,1)">1</text>
<text transform="translate(409.81,481.00) scale(0.570,1)">X</text>
<text transform="translate(440.34,481.00) scale(0.608,1)">O</text>
<text transform="translate(448.14,481.00) scale(0.569,1)">K</text>
<text transform="translate(23.09,501.30) scale(0.966,1)">5</text>
<text transform="translate(38.39,501.30) scale(0.966,1)">5</text>
<text transform="translate(45.26,497.49) scale(1.000,0.8)">″</text>
<text x="30.39" y="501.30">’</text>
<text transform="translate(181.52,501.30) scale(0.761,1)">1</text>
<text transform="translate(188.59,501.30) scale(0.910,1)">6</text>
<text transform="translate(195.94,501.30) scale(0.966,1)">5</text>
<text transform="translate(215.48,501.30) scale(0.942,1)">3</text>
<text transform="translate(223.13,501.30) scale(0.942,1)">3</text>
<text transform="translate(230.96,501.30) scale(0.918,1)">0</text>
<text transform="translate(239.01,499.72) scale(1.240,1.25)">-</text>
<text transform="translate(246.08,501.30) scale(0.942,1)">3</text>
<text transform="translate(253.73,501.30) scale(0.942,1)">3</text>
<text transform="translate(261.19,501.30) scale(0.966,1)">5</text>
<text transform="translate(277.37,501.30) scale(0.761,1)">1</text>
<text transform="translate(285.13,501.30) scale(0.842,1)">b</text>
<text transform="translate(312.17,501.30) scale(0.761,1)">1</text>
<text transform="translate(318.94,501.30) scale(0.966,1)">5</text>
<text transform="translate(326.96,501.30) scale(0.918,1)">0</text>
<text transform="translate(335.01,499.72) scale(1.240,1.25)">-</text>
<text transform="translate(342.77,501.30) scale(0.761,1)">1</text>
<text transform="translate(349.54,501.30) scale(0.966,1)">5</text>
<text transform="translate(357.43,501.30) scale(0.970,1)">2</text>
<text transform="translate(365.56,501.30) scale(0.809,1)">k</text>
<text transform="translate(372.81,500.40) scale(0.888,0.85)">g</text>
<text transform="translate(401.58,501.30) scale(0.942,1)">3</text>
<text transform="translate(409.81,501.30) scale(0.570,1)">X</text>
<text transform="translate(440.34,501.30) scale(0.608,1)">O</text>
<text transform="translate(448.14,501.30) scale(0.569,1)">K</text>
</g>
<rect x="500.7" y="10.7" width="436.09999999999997" height="17.3" fill="#fff"/>
<rect x="500.7" y="28" width="436.09999999999997" height="19.70" fill="#fce4d6"/>
<rect x="500.7" y="47.7" width="436.09999999999997" height="20.30" fill="#fce4d6"/>
<rect x="500.7" y="68" width="436.09999999999997" height="20.00" fill="#fce4d6"/>
<rect x="500.7" y="88" width="436.09999999999997" height="20.00" fill="#fce4d6"/>
<rect x="500.7" y="108" width="436.09999999999997" height="20.00" fill="#fce4d6"/>
<rect x="500.7" y="128" width="436.09999999999997" height="19.00" fill="#fce4d6"/>
<rect x="500.7" y="147" width="436.09999999999997" height="20.00" fill="#ededed"/>
<rect x="500.7" y="167" width="436.09999999999997" height="20.00" fill="#ededed"/>
<rect x="500.7" y="187" width="436.09999999999997" height="19.60" fill="#ededed"/>
<rect x="500.7" y="206.6" width="436.09999999999997" height="20.00" fill="#ededed"/>
<rect x="500.7" y="226.6" width="436.09999999999997" height="19.90" fill="#ededed"/>
<rect x="500.7" y="246.5" width="436.09999999999997" height="19.50" fill="#ededed"/>
<rect x="500.7" y="266" width="436.09999999999997" height="20.00" fill="#fff2cc"/>
<rect x="500.7" y="286" width="436.09999999999997" height="19.60" fill="#fff2cc"/>
<rect x="500.7" y="305.6" width="436.09999999999997" height="19.40" fill="#fff2cc"/>
<rect x="500.7" y="325" width="436.09999999999997" height="20.00" fill="#d9e1f2"/>
<rect x="500.7" y="345" width="436.09999999999997" height="20.00" fill="#d9e1f2"/>
<rect x="500.7" y="365" width="436.09999999999997" height="19.40" fill="#e2efda"/>
<rect x="500.7" y="384.4" width="436.09999999999997" height="20.00" fill="#e2efda"/>
<rect x="500.7" y="404.4" width="436.09999999999997" height="19.60" fill="#e2efda"/>
<rect x="500.7" y="424" width="436.09999999999997" height="20.00" fill="#e2efda"/>
<rect x="500.7" y="444" width="436.09999999999997" height="19.80" fill="#e2efda"/>
<rect x="500.7" y="463.8" width="436.09999999999997" height="19.70" fill="#fff2cc"/>
<rect x="500.7" y="483.5" width="436.09999999999997" height="18.80" fill="#fff2cc"/>
<g stroke="#fff" stroke-width="3.6" fill="none" opacity="0.85">
<line x1="500.7" y1="47.7" x2="936.8" y2="47.7"/>
<line x1="500.7" y1="68" x2="936.8" y2="68"/>
<line x1="500.7" y1="88" x2="936.8" y2="88"/>
<line x1="500.7" y1="108" x2="936.8" y2="108"/>
<line x1="500.7" y1="128" x2="936.8" y2="128"/>
<line x1="500.7" y1="147" x2="936.8" y2="147"/>
<line x1="500.7" y1="167" x2="936.8" y2="167"/>
<line x1="500.7" y1="187" x2="936.8" y2="187"/>
<line x1="500.7" y1="206.6" x2="936.8" y2="206.6"/>
<line x1="500.7" y1="226.6" x2="936.8" y2="226.6"/>
<line x1="500.7" y1="246.5" x2="936.8" y2="246.5"/>
<line x1="500.7" y1="266" x2="936.8" y2="266"/>
<line x1="500.7" y1="286" x2="936.8" y2="286"/>
<line x1="500.7" y1="305.6" x2="936.8" y2="305.6"/>
<line x1="500.7" y1="325" x2="936.8" y2="325"/>
<line x1="500.7" y1="345" x2="936.8" y2="345"/>
<line x1="500.7" y1="365" x2="936.8" y2="365"/>
<line x1="500.7" y1="384.4" x2="936.8" y2="384.4"/>
<line x1="500.7" y1="404.4" x2="936.8" y2="404.4"/>
<line x1="500.7" y1="424" x2="936.8" y2="424"/>
<line x1="500.7" y1="444" x2="936.8" y2="444"/>
<line x1="500.7" y1="463.8" x2="936.8" y2="463.8"/>
<line x1="500.7" y1="483.5" x2="936.8" y2="483.5"/>
<line x1="597.0" y1="28" x2="597.0" y2="502.3"/>
<line x1="685.0" y1="28" x2="685.0" y2="502.3"/>
<line x1="776.8" y1="28" x2="776.8" y2="502.3"/>
<line x1="863.4" y1="28" x2="863.4" y2="502.3"/>
<line x1="899.8" y1="28" x2="899.8" y2="502.3"/>
</g>
<line x1="597.0" y1="11.5" x2="597.0" y2="501.5" stroke="#72ba76" stroke-width="1.5"/>
<line x1="501.5" y1="28.9" x2="936.0" y2="28.9" stroke="#c6ecd0" stroke-width="1"/>
<line x1="501.5" y1="28" x2="936.0" y2="28" stroke="#62ac6c" stroke-width="1.5"/>
<g stroke="#363636" stroke-width="1.6" fill="none">
<line x1="500.0" y1="10.7" x2="937.5" y2="10.7"/>
<line x1="500.0" y1="47.7" x2="937.5" y2="47.7"/>
<line x1="500.0" y1="68" x2="937.5" y2="68"/>
<line x1="500.0" y1="88" x2="937.5" y2="88"/>
<line x1="500.0" y1="108" x2="937.5" y2="108"/>
<line x1="500.0" y1="128" x2="937.5" y2="128"/>
<line x1="500.0" y1="147" x2="937.5" y2="147"/>
<line x1="500.0" y1="167" x2="937.5" y2="167"/>
<line x1="500.0" y1="187" x2="937.5" y2="187"/>
<line x1="500.0" y1="206.6" x2="937.5" y2="206.6"/>
<line x1="500.0" y1="226.6" x2="937.5" y2="226.6"/>
<line x1="500.0" y1="246.5" x2="937.5" y2="246.5"/>
<line x1="500.0" y1="266" x2="937.5" y2="266"/>
<line x1="500.0" y1="286" x2="937.5" y2="286"/>
<line x1="500.0" y1="305.6" x2="937.5" y2="305.6"/>
<line x1="500.0" y1="325" x2="937.5" y2="325"/>
<line x1="500.0" y1="345" x2="937.5" y2="345"/>
<line x1="500.0" y1="365" x2="937.5" y2="365"/>
<line x1="500.0" y1="384.4" x2="937.5" y2="384.4"/>
<line x1="500.0" y1="404.4" x2="937.5" y2="404.4"/>
<line x1="500.0" y1="424" x2="937.5" y2="424"/>
<line x1="500.0" y1="444" x2="937.5" y2="444"/>
<line x1="500.0" y1="463.8" x2="937.5" y2="463.8"/>
<line x1="500.0" y1="483.5" x2="937.5" y2="483.5"/>
<line x1="500.0" y1="502.3" x2="937.5" y2="502.3"/>
<line x1="500.7" y1="10.7" x2="500.7" y2="502.3"/>
<line x1="685.0" y1="10.7" x2="685.0" y2="502.3"/>
<line x1="776.8" y1="10.7" x2="776.8" y2="502.3"/>
<line x1="863.4" y1="10.7" x2="863.4" y2="502.3"/>
<line x1="899.8" y1="10.7" x2="899.8" y2="502.3"/>
<line x1="936.8" y1="10.7" x2="936.8" y2="502.3"/>
</g>
<g font-family="Liberation Serif, serif" font-weight="bold" font-size="15.3" fill="#111">
<text transform="translate(503.43,24.90) scale(0.676,1)">H</text>
<text transform="translate(511.64,24.90) scale(1.131,1.08)">e</text>
<text transform="translate(520.59,24.90) scale(1.404,1.08)">i</text>
<text transform="translate(527.80,23.50) scale(1.000,0.78)">g</text>
<text transform="translate(535.63,24.90) scale(0.974,1)">h</text>
<text transform="translate(545.09,24.90) scale(1.084,1)">t</text>
<text x="553.41" y="23.30">(</text>
<text transform="translate(561.45,24.90) scale(1.009,1)">f</text>
<text transform="translate(568.33,24.90) scale(1.024,1.08)">o</text>
<text transform="translate(576.43,24.90) scale(1.024,1.08)">o</text>
<text transform="translate(585.59,24.90) scale(1.084,1)">t</text>
<text x="594.09" y="23.30">)</text>
<text transform="translate(599.73,24.90) scale(0.676,1)">H</text>
<text transform="translate(607.94,24.90) scale(1.131,1.08)">e</text>
<text transform="translate(616.89,24.90) scale(1.404,1.08)">i</text>
<text transform="translate(624.10,23.50) scale(1.000,0.78)">g</text>
<text transform="translate(631.93,24.90) scale(0.974,1)">h</text>
<text transform="translate(641.39,24.90) scale(1.084,1)">t</text>
<text x="649.71" y="23.30">(</text>
<text transform="translate(656.54,24.90) scale(1.128,1.08)">c</text>
<text transform="translate(664.44,24.90) scale(0.637,1.08)">m</text>
<text x="674.19" y="23.30">)</text>
<text transform="translate(687.79,24.90) scale(0.518,1)">W</text>
<text transform="translate(695.94,24.90) scale(1.131,1.08)">e</text>
<text transform="translate(704.89,24.90) scale(1.404,1.08)">i</text>
<text transform="translate(712.10,23.50) scale(1.000,0.78)">g</text>
<text transform="translate(719.93,24.90) scale(0.974,1)">h</text>
<text transform="translate(729.39,24.90) scale(1.084,1)">t</text>
<text x="743.06" y="23.30">(</text>
<text x="767.54" y="23.30">)</text>
<text x="749.75 757.85" y="24.90">1b</text>
<text transform="translate(779.59,24.90) scale(0.518,1)">W</text>
<text transform="translate(787.74,24.90) scale(1.131,1.08)">e</text>
<text transform="translate(796.69,24.90) scale(1.404,1.08)">i</text>
<text transform="translate(803.90,23.50) scale(1.000,0.78)">g</text>
<text transform="translate(811.73,24.90) scale(0.974,1)">h</text>
<text transform="translate(821.19,24.90) scale(1.084,1)">t</text>
<text x="829.51" y="23.30">(</text>
<text transform="translate(836.04,24.90) scale(0.949,1)">k</text>
<text transform="translate(844.40,23.50) scale(1.000,0.78)">g</text>
<text x="853.99" y="23.30">)</text>
<text transform="translate(875.19,24.90) scale(1.404,1.08)">i</text>
<text transform="translate(882.71,24.90) scale(1.079,1.08)">z</text>
<text transform="translate(890.54,24.90) scale(1.131,1.08)">e</text>
<text x="865.81" y="24.90">S</text>
<text transform="translate(902.46,24.90) scale(0.921,1)">F</text>
<text transform="translate(911.59,24.90) scale(1.404,1.08)">i</text>
<text transform="translate(919.89,24.90) scale(1.084,1)">t</text>
</g>
<g font-family="Liberation Serif, serif" font-size="17.0" fill="#262626" stroke="#262626" stroke-width="0.08">
<text transform="translate(502.51,44.70) scale(0.963,1)">5</text>
<text transform="translate(517.17,44.70) scale(0.963,1)">5</text>
<text transform="translate(523.75,41.05) scale(1.000,0.8)">″</text>
<text x="509.50" y="44.70">’</text>
<text transform="translate(654.27,44.70) scale(0.759,1)">1</text>
<text transform="translate(661.04,44.70) scale(0.908,1)">6</text>
<text transform="translate(668.08,44.70) scale(0.963,1)">5</text>
<text transform="translate(687.00,44.70) scale(0.939,1)">3</text>
<text transform="translate(694.33,44.70) scale(0.939,1)">3</text>
<text transform="translate(701.83,44.70) scale(0.916,1)">0</text>
<text transform="translate(709.54,43.82) scale(1.237,1.25)">-</text>
<text transform="translate(716.32,44.70) scale(0.939,1)">3</text>
<text transform="translate(723.65,44.70) scale(0.939,1)">3</text>
<text transform="translate(730.79,44.70) scale(0.963,1)">5</text>
<text transform="translate(746.30,44.70) scale(0.759,1)">1</text>
<text transform="translate(753.74,44.70) scale(0.840,1)">b</text>
<text transform="translate(779.46,44.70) scale(0.759,1)">1</text>
<text transform="translate(785.94,44.70) scale(0.963,1)">5</text>
<text transform="translate(793.63,44.70) scale(0.916,1)">0</text>
<text transform="translate(801.34,43.82) scale(1.237,1.25)">-</text>
<text transform="translate(808.78,44.70) scale(0.759,1)">1</text>
<text transform="translate(815.26,44.70) scale(0.963,1)">5</text>
<text transform="translate(822.82,44.70) scale(0.968,1)">2</text>
<text transform="translate(830.62,44.70) scale(0.807,1)">k</text>
<text transform="translate(837.56,43.80) scale(0.886,0.85)">g</text>
<text transform="translate(865.40,44.70) scale(0.939,1)">3</text>
<text transform="translate(873.28,44.70) scale(0.569,1)">X</text>
<text transform="translate(902.14,44.70) scale(0.606,1)">O</text>
<text transform="translate(909.62,44.70) scale(0.568,1)">K</text>
<text transform="translate(502.51,65.00) scale(0.963,1)">5</text>
<text transform="translate(517.17,65.00) scale(0.963,1)">5</text>
<text transform="translate(523.75,61.34) scale(1.000,0.8)">″</text>
<text x="509.50" y="65.00">’</text>
<text transform="translate(654.27,65.00) scale(0.759,1)">1</text>
<text transform="translate(661.04,65.00) scale(0.908,1)">6</text>
<text transform="translate(668.08,65.00) scale(0.963,1)">5</text>
<text transform="translate(687.66,65.00) scale(0.759,1)">1</text>
<text transform="translate(694.37,65.00) scale(0.968,1)">2</text>
<text transform="translate(701.47,65.00) scale(0.963,1)">5</text>
<text transform="translate(709.54,64.11) scale(1.237,1.25)">-</text>
<text transform="translate(716.98,65.00) scale(0.759,1)">1</text>
<text transform="translate(723.65,65.00) scale(0.939,1)">3</text>
<text transform="translate(731.15,65.00) scale(0.916,1)">0</text>
<text transform="translate(746.30,65.00) scale(0.759,1)">1</text>
<text transform="translate(753.74,65.00) scale(0.840,1)">b</text>
<text transform="translate(778.61,65.00) scale(0.963,1)">5</text>
<text transform="translate(785.82,65.00) scale(0.958,1)">7</text>
<text transform="translate(794.01,64.11) scale(1.237,1.25)">-</text>
<text transform="translate(800.60,65.00) scale(0.963,1)">5</text>
<text transform="translate(808.39,65.00) scale(0.909,1)">9</text>
<text transform="translate(815.96,65.00) scale(0.807,1)">k</text>
<text transform="translate(822.90,64.10) scale(0.886,0.85)">g</text>
<text transform="translate(865.94,65.00) scale(0.467,1)" stroke-width="0.9" vector-effect="non-scaling-stroke">M</text>
<text transform="translate(902.14,65.00) scale(0.606,1)">O</text>
<text transform="translate(909.62,65.00) scale(0.568,1)">K</text>
<text transform="translate(502.51,85.00) scale(0.963,1)">5</text>
<text transform="translate(517.17,85.00) scale(0.963,1)">5</text>
<text transform="translate(523.75,81.34) scale(1.000,0.8)">″</text>
<text x="509.50" y="85.00">’</text>
<text transform="translate(654.27,85.00) scale(0.759,1)">1</text>
<text transform="translate(661.04,85.00) scale(0.908,1)">6</text>
<text transform="translate(668.08,85.00) scale(0.963,1)">5</text>
<text transform="translate(687.66,85.00) scale(0.759,1)">1</text>
<text transform="translate(694.50,85.00) scale(0.916,1)">0</text>
<text transform="translate(701.47,85.00) scale(0.963,1)">5</text>
<text transform="translate(709.54,84.11) scale(1.237,1.25)">-</text>
<text transform="translate(716.98,85.00) scale(0.759,1)">1</text>
<text transform="translate(724.31,85.00) scale(0.759,1)">1</text>
<text transform="translate(731.15,85.00) scale(0.916,1)">0</text>
<text transform="translate(746.30,85.00) scale(0.759,1)">1</text>
<text transform="translate(753.74,85.00) scale(0.840,1)">b</text>
<text transform="translate(779.29,85.00) scale(0.835,1)">4</text>
<text transform="translate(786.30,85.00) scale(0.916,1)">8</text>
<text transform="translate(794.01,84.11) scale(1.237,1.25)">-</text>
<text transform="translate(800.60,85.00) scale(0.963,1)">5</text>
<text transform="translate(808.29,85.00) scale(0.916,1)">0</text>
<text transform="translate(815.96,85.00) scale(0.807,1)">k</text>
<text transform="translate(822.90,84.10) scale(0.886,0.85)">g</text>
<text transform="translate(865.13,85.00) scale(0.908,1)">S</text>
<text transform="translate(880.37,85.00) scale(0.997,1)">z</text>
<text x="874.42 887.64" y="85.00">ie</text>
<text transform="translate(902.14,85.00) scale(0.606,1)">O</text>
<text transform="translate(909.62,85.00) scale(0.568,1)">K</text>
<text transform="translate(502.51,105.00) scale(0.963,1)">5</text>
<text transform="translate(517.17,105.00) scale(0.963,1)">5</text>
<text transform="translate(523.75,101.34) scale(1.000,0.8)">″</text>
<text x="509.50" y="105.00">’</text>
<text transform="translate(654.27,105.00) scale(0.759,1)">1</text>
<text transform="translate(661.04,105.00) scale(0.908,1)">6</text>
<text transform="translate(668.08,105.00) scale(0.963,1)">5</text>
<text transform="translate(687.66,105.00) scale(0.759,1)">1</text>
<text transform="translate(694.60,105.00) scale(0.909,1)">9</text>
<text transform="translate(701.83,105.00) scale(0.916,1)">0</text>
<text transform="translate(709.54,104.11) scale(1.237,1.25)">-</text>
<text transform="translate(716.98,105.00) scale(0.759,1)">1</text>
<text transform="translate(723.92,105.00) scale(0.909,1)">9</text>
<text transform="translate(730.79,105.00) scale(0.963,1)">5</text>
<text transform="translate(746.30,105.00) scale(0.759,1)">1</text>
<text transform="translate(753.74,105.00) scale(0.840,1)">b</text>
<text transform="translate(778.97,105.00) scale(0.916,1)">8</text>
<text transform="translate(786.23,105.00) scale(0.908,1)">6</text>
<text transform="translate(794.01,104.11) scale(1.237,1.25)">-</text>
<text transform="translate(800.96,105.00) scale(0.916,1)">8</text>
<text transform="translate(808.29,105.00) scale(0.916,1)">8</text>
<text transform="translate(815.96,105.00) scale(0.807,1)">k</text>
<text transform="translate(822.90,104.10) scale(0.886,0.85)">g</text>
<text transform="translate(865.95,105.00) scale(0.569,1)">X</text>
<text transform="translate(873.13,105.00) scale(0.743,1)">L</text>
<text transform="translate(902.14,105.00) scale(0.606,1)">O</text>
<text transform="translate(909.62,105.00) scale(0.568,1)">K</text>
<text transform="translate(502.51,125.00) scale(0.963,1)">5</text>
<text transform="translate(517.17,125.00) scale(0.963,1)">5</text>
<text transform="translate(523.75,121.34) scale(1.000,0.8)">″</text>
<text x="509.50" y="125.00">’</text>
<text transform="translate(654.27,125.00) scale(0.759,1)">1</text>
<text transform="translate(661.04,125.00) scale(0.908,1)">6</text>
<text transform="translate(668.08,125.00) scale(0.963,1)">5</text>
<text transform="translate(687.04,125.00) scale(0.968,1)">2</text>
<text transform="translate(694.37,125.00) scale(0.968,1)">2</text>
<text transform="translate(701.83,125.00) scale(0.916,1)">0</text>
<text transform="translate(709.54,124.11) scale(1.237,1.25)">-</text>
<text transform="translate(716.36,125.00) scale(0.968,1)">2</text>
<text transform="translate(723.69,125.00) scale(0.968,1)">2</text>
<text transform="translate(730.79,125.00) scale(0.963,1)">5</text>
<text transform="translate(746.30,125.00) scale(0.759,1)">1</text>
<text transform="translate(753.74,125.00) scale(0.840,1)">b</text>
<text transform="translate(779.46,125.00) scale(0.759,1)">1</text>
<text transform="translate(786.30,125.00) scale(0.916,1)">0</text>
<text transform="translate(793.63,125.00) scale(0.916,1)">0</text>
<text transform="translate(801.34,124.11) scale(1.237,1.25)">-</text>
<text transform="translate(808.78,125.00) scale(0.759,1)">1</text>
<text transform="translate(815.62,125.00) scale(0.916,1)">0</text>
<text transform="translate(822.82,125.00) scale(0.968,1)">2</text>
<text transform="translate(830.62,125.00) scale(0.807,1)">k</text>
<text transform="translate(837.56,124.10) scale(0.886,0.85)">g</text>
<text transform="translate(865.95,125.00) scale(0.569,1)">X</text>
<text transform="translate(873.13,125.00) scale(0.743,1)">L</text>
<text transform="translate(902.14,125.00) scale(0.606,1)">O</text>
<text transform="translate(909.62,125.00) scale(0.568,1)">K</text>
<text transform="translate(502.51,144.00) scale(0.963,1)">5</text>
<text transform="translate(517.17,144.00) scale(0.963,1)">5</text>
<text transform="translate(523.75,140.34) scale(1.000,0.8)">″</text>
<text x="509.50" y="144.00">’</text>
<text transform="translate(654.27,144.00) scale(0.759,1)">1</text>
<text transform="translate(661.04,144.00) scale(0.908,1)">6</text>
<text transform="translate(668.08,144.00) scale(0.963,1)">5</text>
<text transform="translate(687.04,144.00) scale(0.968,1)">2</text>
<text transform="translate(694.82,144.00) scale(0.835,1)">4</text>
<text transform="translate(701.83,144.00) scale(0.916,1)">0</text>
<text transform="translate(709.54,143.11) scale(1.237,1.25)">-</text>
<text transform="translate(716.36,144.00) scale(0.968,1)">2</text>
<text transform="translate(724.14,144.00) scale(0.835,1)">4</text>
<text transform="translate(730.79,144.00) scale(0.963,1)">5</text>
<text transform="translate(746.30,144.00) scale(0.759,1)">1</text>
<text transform="translate(753.74,144.00) scale(0.840,1)">b</text>
<text transform="translate(779.46,144.00) scale(0.759,1)">1</text>
<text transform="translate(786.30,144.00) scale(0.916,1)">0</text>
<text transform="translate(793.73,144.00) scale(0.909,1)">9</text>
<text transform="translate(801.34,143.11) scale(1.237,1.25)">-</text>
<text transform="translate(808.78,144.00) scale(0.759,1)">1</text>
<text transform="translate(816.11,144.00) scale(0.759,1)">1</text>
<text transform="translate(823.44,144.00) scale(0.759,1)">1</text>
<text transform="translate(830.62,144.00) scale(0.807,1)">k</text>
<text transform="translate(837.56,143.10) scale(0.886,0.85)">g</text>
<text transform="translate(865.95,144.00) scale(0.569,1)">X</text>
<text transform="translate(873.13,144.00) scale(0.743,1)">L</text>
<text transform="translate(902.14,144.00) scale(0.606,1)">O</text>
<text transform="translate(909.62,144.00) scale(0.568,1)">K</text>
<text transform="translate(502.51,164.00) scale(0.963,1)">5</text>
<text transform="translate(517.46,164.00) scale(0.908,1)">6</text>
<text transform="translate(523.75,160.34) scale(1.000,0.8)">″</text>
<text x="509.50" y="164.00">’</text>
<text transform="translate(654.27,164.00) scale(0.759,1)">1</text>
<text transform="translate(661.04,164.00) scale(0.908,1)">6</text>
<text transform="translate(668.44,164.00) scale(0.916,1)">8</text>
<text transform="translate(687.66,164.00) scale(0.759,1)">1</text>
<text transform="translate(694.50,164.00) scale(0.916,1)">8</text>
<text transform="translate(701.47,164.00) scale(0.963,1)">5</text>
<text transform="translate(709.54,163.11) scale(1.237,1.25)">-</text>
<text transform="translate(716.98,164.00) scale(0.759,1)">1</text>
<text transform="translate(723.92,164.00) scale(0.909,1)">9</text>
<text transform="translate(731.15,164.00) scale(0.916,1)">0</text>
<text transform="translate(746.30,164.00) scale(0.759,1)">1</text>
<text transform="translate(753.74,164.00) scale(0.840,1)">b</text>
<text transform="translate(778.97,164.00) scale(0.916,1)">8</text>
<text transform="translate(786.62,164.00) scale(0.835,1)">4</text>
<text transform="translate(794.01,163.11) scale(1.237,1.25)">-</text>
<text transform="translate(800.96,164.00) scale(0.916,1)">8</text>
<text transform="translate(808.22,164.00) scale(0.908,1)">6</text>
<text transform="translate(815.96,164.00) scale(0.807,1)">k</text>
<text transform="translate(822.90,163.10) scale(0.886,0.85)">g</text>
<text transform="translate(865.57,164.00) scale(0.916,1)">0</text>
<text transform="translate(873.28,164.00) scale(0.569,1)">X</text>
<text transform="translate(902.14,164.00) scale(0.606,1)">O</text>
<text transform="translate(909.62,164.00) scale(0.568,1)">K</text>
<text transform="translate(502.51,184.00) scale(0.963,1)">5</text>
<text transform="translate(517.46,184.00) scale(0.908,1)">6</text>
<text transform="translate(523.75,180.34) scale(1.000,0.8)">″</text>
<text x="509.50" y="184.00">’</text>
<text transform="translate(654.27,184.00) scale(0.759,1)">1</text>
<text transform="translate(661.04,184.00) scale(0.908,1)">6</text>
<text transform="translate(668.44,184.00) scale(0.916,1)">8</text>
<text transform="translate(687.66,184.00) scale(0.759,1)">1</text>
<text transform="translate(694.60,184.00) scale(0.909,1)">9</text>
<text transform="translate(701.47,184.00) scale(0.963,1)">5</text>
<text transform="translate(709.54,183.11) scale(1.237,1.25)">-</text>
<text transform="translate(716.36,184.00) scale(0.968,1)">2</text>
<text transform="translate(723.82,184.00) scale(0.916,1)">0</text>
<text transform="translate(731.15,184.00) scale(0.916,1)">0</text>
<text transform="translate(746.30,184.00) scale(0.759,1)">1</text>
<text transform="translate(753.74,184.00) scale(0.840,1)">b</text>
<text transform="translate(778.97,184.00) scale(0.916,1)">8</text>
<text transform="translate(786.30,184.00) scale(0.916,1)">8</text>
<text transform="translate(794.01,183.11) scale(1.237,1.25)">-</text>
<text transform="translate(801.06,184.00) scale(0.909,1)">9</text>
<text transform="translate(808.78,184.00) scale(0.759,1)">1</text>
<text transform="translate(815.96,184.00) scale(0.807,1)">k</text>
<text transform="translate(822.90,183.10) scale(0.886,0.85)">g</text>
<text transform="translate(865.40,184.00) scale(0.939,1)">3</text>
<text transform="translate(873.28,184.00) scale(0.569,1)">X</text>
<text transform="translate(902.14,184.00) scale(0.606,1)">O</text>
<text transform="translate(909.62,184.00) scale(0.568,1)">K</text>
<text transform="translate(502.51,203.60) scale(0.963,1)">5</text>
<text transform="translate(517.46,203.60) scale(0.908,1)">6</text>
<text transform="translate(523.75,199.94) scale(1.000,0.8)">″</text>
<text x="509.50" y="203.60">’</text>
<text transform="translate(654.27,203.60) scale(0.759,1)">1</text>
<text transform="translate(661.04,203.60) scale(0.908,1)">6</text>
<text transform="translate(668.44,203.60) scale(0.916,1)">8</text>
<text transform="translate(687.66,203.60) scale(0.759,1)">1</text>
<text transform="translate(694.82,203.60) scale(0.835,1)">4</text>
<text transform="translate(701.47,203.60) scale(0.963,1)">5</text>
<text transform="translate(709.54,202.71) scale(1.237,1.25)">-</text>
<text transform="translate(716.98,203.60) scale(0.759,1)">1</text>
<text transform="translate(723.46,203.60) scale(0.963,1)">5</text>
<text transform="translate(731.15,203.60) scale(0.916,1)">0</text>
<text transform="translate(746.30,203.60) scale(0.759,1)">1</text>
<text transform="translate(753.74,203.60) scale(0.840,1)">b</text>
<text transform="translate(778.90,203.60) scale(0.908,1)">6</text>
<text transform="translate(786.23,203.60) scale(0.908,1)">6</text>
<text transform="translate(794.01,202.71) scale(1.237,1.25)">-</text>
<text transform="translate(800.89,203.60) scale(0.908,1)">6</text>
<text transform="translate(808.29,203.60) scale(0.916,1)">8</text>
<text transform="translate(815.96,203.60) scale(0.807,1)">k</text>
<text transform="translate(822.90,202.70) scale(0.886,0.85)">g</text>
<text transform="translate(865.94,203.60) scale(0.467,1)" stroke-width="0.9" vector-effect="non-scaling-stroke">M</text>
<text transform="translate(902.14,203.60) scale(0.606,1)">O</text>
<text transform="translate(909.62,203.60) scale(0.568,1)">K</text>
<text transform="translate(502.51,223.60) scale(0.963,1)">5</text>
<text transform="translate(517.46,223.60) scale(0.908,1)">6</text>
<text transform="translate(523.75,219.94) scale(1.000,0.8)">″</text>
<text x="509.50" y="223.60">’</text>
<text transform="translate(654.27,223.60) scale(0.759,1)">1</text>
<text transform="translate(661.04,223.60) scale(0.908,1)">6</text>
<text transform="translate(668.44,223.60) scale(0.916,1)">8</text>
<text transform="translate(687.66,223.60) scale(0.759,1)">1</text>
<text transform="translate(694.37,223.60) scale(0.968,1)">2</text>
<text transform="translate(701.83,223.60) scale(0.916,1)">0</text>
<text transform="translate(709.54,222.71) scale(1.237,1.25)">-</text>
<text transform="translate(716.98,223.60) scale(0.759,1)">1</text>
<text transform="translate(723.69,223.60) scale(0.968,1)">2</text>
<text transform="translate(730.79,223.60) scale(0.963,1)">5</text>
<text transform="translate(746.30,223.60) scale(0.759,1)">1</text>
<text transform="translate(753.74,223.60) scale(0.840,1)">b</text>
<text transform="translate(778.61,223.60) scale(0.963,1)">5</text>
<text transform="translate(786.62,223.60) scale(0.835,1)">4</text>
<text transform="translate(794.01,222.71) scale(1.237,1.25)">-</text>
<text transform="translate(800.60,223.60) scale(0.963,1)">5</text>
<text transform="translate(807.81,223.60) scale(0.958,1)">7</text>
<text transform="translate(815.96,223.60) scale(0.807,1)">k</text>
<text transform="translate(822.90,222.70) scale(0.886,0.85)">g</text>
<text transform="translate(865.13,223.60) scale(0.908,1)">S</text>
<text transform="translate(902.14,223.60) scale(0.606,1)">O</text>
<text transform="translate(909.62,223.60) scale(0.568,1)">K</text>
<text transform="translate(502.51,243.50) scale(0.963,1)">5</text>
<text transform="translate(517.46,243.50) scale(0.908,1)">6</text>
<text transform="translate(523.75,239.84) scale(1.000,0.8)">″</text>
<text x="509.50" y="243.50">’</text>
<text transform="translate(654.27,243.50) scale(0.759,1)">1</text>
<text transform="translate(661.04,243.50) scale(0.908,1)">6</text>
<text transform="translate(668.44,243.50) scale(0.916,1)">8</text>
<text transform="translate(687.66,243.50) scale(0.759,1)">1</text>
<text transform="translate(694.33,243.50) scale(0.939,1)">3</text>
<text transform="translate(701.47,243.50) scale(0.963,1)">5</text>
<text transform="translate(709.54,242.61) scale(1.237,1.25)">-</text>
<text transform="translate(716.98,243.50) scale(0.759,1)">1</text>
<text transform="translate(724.14,243.50) scale(0.835,1)">4</text>
<text transform="translate(731.15,243.50) scale(0.916,1)">0</text>
<text transform="translate(746.30,243.50) scale(0.759,1)">1</text>
<text transform="translate(753.74,243.50) scale(0.840,1)">b</text>
<text transform="translate(778.90,243.50) scale(0.908,1)">6</text>
<text transform="translate(786.79,243.50) scale(0.759,1)">1</text>
<text transform="translate(794.01,242.61) scale(1.237,1.25)">-</text>
<text transform="translate(800.89,243.50) scale(0.908,1)">6</text>
<text transform="translate(808.61,243.50) scale(0.835,1)">4</text>
<text transform="translate(815.96,243.50) scale(0.807,1)">k</text>
<text transform="translate(822.90,242.60) scale(0.886,0.85)">g</text>
<text transform="translate(865.13,243.50) scale(0.908,1)">S</text>
<text transform="translate(902.14,243.50) scale(0.606,1)">O</text>
<text transform="translate(909.62,243.50) scale(0.568,1)">K</text>
<text transform="translate(502.51,263.00) scale(0.963,1)">5</text>
<text transform="translate(517.46,263.00) scale(0.908,1)">6</text>
<text transform="translate(523.75,259.35) scale(1.000,0.8)">″</text>
<text x="509.50" y="263.00">’</text>
<text transform="translate(654.27,263.00) scale(0.759,1)">1</text>
<text transform="translate(661.04,263.00) scale(0.908,1)">6</text>
<text transform="translate(668.44,263.00) scale(0.916,1)">8</text>
<text transform="translate(687.04,263.00) scale(0.968,1)">2</text>
<text transform="translate(694.50,263.00) scale(0.916,1)">0</text>
<text transform="translate(701.83,263.00) scale(0.916,1)">0</text>
<text transform="translate(709.54,262.12) scale(1.237,1.25)">-</text>
<text transform="translate(716.36,263.00) scale(0.968,1)">2</text>
<text transform="translate(723.82,263.00) scale(0.916,1)">0</text>
<text transform="translate(730.79,263.00) scale(0.963,1)">5</text>
<text transform="translate(746.30,263.00) scale(0.759,1)">1</text>
<text transform="translate(753.74,263.00) scale(0.840,1)">b</text>
<text transform="translate(779.07,263.00) scale(0.909,1)">9</text>
<text transform="translate(786.79,263.00) scale(0.759,1)">1</text>
<text transform="translate(794.01,262.12) scale(1.237,1.25)">-</text>
<text transform="translate(801.06,263.00) scale(0.909,1)">9</text>
<text transform="translate(808.12,263.00) scale(0.939,1)">3</text>
<text transform="translate(815.96,263.00) scale(0.807,1)">k</text>
<text transform="translate(822.90,262.10) scale(0.886,0.85)">g</text>
<text transform="translate(865.95,263.00) scale(0.569,1)">X</text>
<text transform="translate(873.13,263.00) scale(0.743,1)">L</text>
<text transform="translate(902.14,263.00) scale(0.606,1)">O</text>
<text transform="translate(909.62,263.00) scale(0.568,1)">K</text>
<text transform="translate(502.51,283.00) scale(0.963,1)">5</text>
<text transform="translate(517.05,283.00) scale(0.958,1)">7</text>
<text transform="translate(523.75,279.35) scale(1.000,0.8)">″</text>
<text x="509.50" y="283.00">’</text>
<text transform="translate(654.27,283.00) scale(0.759,1)">1</text>
<text transform="translate(660.63,283.00) scale(0.958,1)">7</text>
<text transform="translate(668.44,283.00) scale(0.916,1)">0</text>
<text transform="translate(687.04,283.00) scale(0.968,1)">2</text>
<text transform="translate(694.99,283.00) scale(0.759,1)">1</text>
<text transform="translate(701.83,283.00) scale(0.916,1)">0</text>
<text transform="translate(709.54,282.12) scale(1.237,1.25)">-</text>
<text transform="translate(716.36,283.00) scale(0.968,1)">2</text>
<text transform="translate(724.31,283.00) scale(0.759,1)">1</text>
<text transform="translate(730.79,283.00) scale(0.963,1)">5</text>
<text transform="translate(746.30,283.00) scale(0.759,1)">1</text>
<text transform="translate(753.74,283.00) scale(0.840,1)">b</text>
<text transform="translate(779.07,283.00) scale(0.909,1)">9</text>
<text transform="translate(785.94,283.00) scale(0.963,1)">5</text>
<text transform="translate(794.01,282.12) scale(1.237,1.25)">-</text>
<text transform="translate(801.06,283.00) scale(0.909,1)">9</text>
<text transform="translate(808.29,283.00) scale(0.916,1)">8</text>
<text transform="translate(815.96,283.00) scale(0.807,1)">k</text>
<text transform="translate(822.90,282.10) scale(0.886,0.85)">g</text>
<text transform="translate(866.06,283.00) scale(0.759,1)">1</text>
<text transform="translate(873.28,283.00) scale(0.569,1)">X</text>
<text transform="translate(902.14,283.00) scale(0.606,1)">O</text>
<text transform="translate(909.62,283.00) scale(0.568,1)">K</text>
<text transform="translate(502.51,302.60) scale(0.963,1)">5</text>
<text transform="translate(517.05,302.60) scale(0.958,1)">7</text>
<text transform="translate(523.75,298.95) scale(1.000,0.8)">″</text>
<text x="509.50" y="302.60">’</text>
<text transform="translate(654.27,302.60) scale(0.759,1)">1</text>
<text transform="translate(660.63,302.60) scale(0.958,1)">7</text>
<text transform="translate(668.44,302.60) scale(0.916,1)">0</text>
<text transform="translate(687.66,302.60) scale(0.759,1)">1</text>
<text transform="translate(694.60,302.60) scale(0.909,1)">9</text>
<text transform="translate(701.83,302.60) scale(0.916,1)">0</text>
<text transform="translate(709.54,301.72) scale(1.237,1.25)">-</text>
<text transform="translate(716.98,302.60) scale(0.759,1)">1</text>
<text transform="translate(723.92,302.60) scale(0.909,1)">9</text>
<text transform="translate(730.79,302.60) scale(0.963,1)">5</text>
<text transform="translate(746.30,302.60) scale(0.759,1)">1</text>
<text transform="translate(753.74,302.60) scale(0.840,1)">b</text>
<text transform="translate(778.97,302.60) scale(0.916,1)">8</text>
<text transform="translate(786.23,302.60) scale(0.908,1)">6</text>
<text transform="translate(794.01,301.72) scale(1.237,1.25)">-</text>
<text transform="translate(800.96,302.60) scale(0.916,1)">8</text>
<text transform="translate(808.29,302.60) scale(0.916,1)">8</text>
<text transform="translate(815.96,302.60) scale(0.807,1)">k</text>
<text transform="translate(822.90,301.70) scale(0.886,0.85)">g</text>
<text transform="translate(865.80,302.60) scale(0.743,1)">L</text>
<text transform="translate(902.14,302.60) scale(0.606,1)">O</text>
<text transform="translate(909.62,302.60) scale(0.568,1)">K</text>
<text transform="translate(502.51,322.00) scale(0.963,1)">5</text>
<text transform="translate(517.05,322.00) scale(0.958,1)">7</text>
<text transform="translate(523.75,318.35) scale(1.000,0.8)">″</text>
<text x="509.50" y="322.00">’</text>
<text transform="translate(654.27,322.00) scale(0.759,1)">1</text>
<text transform="translate(660.63,322.00) scale(0.958,1)">7</text>
<text transform="translate(668.44,322.00) scale(0.916,1)">0</text>
<text transform="translate(687.66,322.00) scale(0.759,1)">1</text>
<text transform="translate(694.33,322.00) scale(0.939,1)">3</text>
<text transform="translate(701.47,322.00) scale(0.963,1)">5</text>
<text transform="translate(709.54,321.12) scale(1.237,1.25)">-</text>
<text transform="translate(716.98,322.00) scale(0.759,1)">1</text>
<text transform="translate(724.14,322.00) scale(0.835,1)">4</text>
<text transform="translate(731.15,322.00) scale(0.916,1)">0</text>
<text transform="translate(746.30,322.00) scale(0.759,1)">1</text>
<text transform="translate(753.74,322.00) scale(0.840,1)">b</text>
<text transform="translate(778.90,322.00) scale(0.908,1)">6</text>
<text transform="translate(786.79,322.00) scale(0.759,1)">1</text>
<text transform="translate(794.01,321.12) scale(1.237,1.25)">-</text>
<text transform="translate(800.89,322.00) scale(0.908,1)">6</text>
<text transform="translate(808.61,322.00) scale(0.835,1)">4</text>
<text transform="translate(815.96,322.00) scale(0.807,1)">k</text>
<text transform="translate(822.90,321.10) scale(0.886,0.85)">g</text>
<text transform="translate(865.94,322.00) scale(0.467,1)" stroke-width="0.9" vector-effect="non-scaling-stroke">M</text>
<text transform="translate(902.14,322.00) scale(0.606,1)">O</text>
<text transform="translate(909.62,322.00) scale(0.568,1)">K</text>
<text transform="translate(502.51,342.00) scale(0.963,1)">5</text>
<text transform="translate(517.53,342.00) scale(0.916,1)">8</text>
<text transform="translate(523.75,338.35) scale(1.000,0.8)">″</text>
<text x="509.50" y="342.00">’</text>
<text transform="translate(654.27,342.00) scale(0.759,1)">1</text>
<text transform="translate(660.63,342.00) scale(0.958,1)">7</text>
<text transform="translate(668.27,342.00) scale(0.939,1)">3</text>
<text transform="translate(687.04,342.00) scale(0.968,1)">2</text>
<text transform="translate(694.43,342.00) scale(0.908,1)">6</text>
<text transform="translate(701.83,342.00) scale(0.916,1)">0</text>
<text transform="translate(709.54,341.12) scale(1.237,1.25)">-</text>
<text transform="translate(716.36,342.00) scale(0.968,1)">2</text>
<text transform="translate(723.75,342.00) scale(0.908,1)">6</text>
<text transform="translate(730.79,342.00) scale(0.963,1)">5</text>
<text transform="translate(746.30,342.00) scale(0.759,1)">1</text>
<text transform="translate(753.74,342.00) scale(0.840,1)">b</text>
<text transform="translate(779.46,342.00) scale(0.759,1)">1</text>
<text transform="translate(786.79,342.00) scale(0.759,1)">1</text>
<text transform="translate(793.63,342.00) scale(0.916,1)">8</text>
<text transform="translate(801.34,341.12) scale(1.237,1.25)">-</text>
<text transform="translate(808.78,342.00) scale(0.759,1)">1</text>
<text transform="translate(815.49,342.00) scale(0.968,1)">2</text>
<text transform="translate(822.95,342.00) scale(0.916,1)">0</text>
<text transform="translate(830.62,342.00) scale(0.807,1)">k</text>
<text transform="translate(837.56,341.10) scale(0.886,0.85)">g</text>
<text transform="translate(865.44,342.00) scale(0.968,1)">2</text>
<text transform="translate(873.28,342.00) scale(0.569,1)">X</text>
<text transform="translate(902.14,342.00) scale(0.606,1)">O</text>
<text transform="translate(909.62,342.00) scale(0.568,1)">K</text>
<text transform="translate(502.51,362.00) scale(0.963,1)">5</text>
<text transform="translate(517.53,362.00) scale(0.916,1)">8</text>
<text transform="translate(523.75,358.35) scale(1.000,0.8)">″</text>
<text x="509.50" y="362.00">’</text>
<text transform="translate(654.27,362.00) scale(0.759,1)">1</text>
<text transform="translate(660.63,362.00) scale(0.958,1)">7</text>
<text transform="translate(668.27,362.00) scale(0.939,1)">3</text>
<text transform="translate(687.66,362.00) scale(0.759,1)">1</text>
<text transform="translate(694.50,362.00) scale(0.916,1)">8</text>
<text transform="translate(701.83,362.00) scale(0.916,1)">0</text>
<text transform="translate(709.54,361.12) scale(1.237,1.25)">-</text>
<text transform="translate(716.98,362.00) scale(0.759,1)">1</text>
<text transform="translate(723.82,362.00) scale(0.916,1)">8</text>
<text transform="translate(730.79,362.00) scale(0.963,1)">5</text>
<text transform="translate(746.30,362.00) scale(0.759,1)">1</text>
<text transform="translate(753.74,362.00) scale(0.840,1)">b</text>
<text transform="translate(778.97,362.00) scale(0.916,1)">8</text>
<text transform="translate(786.17,362.00) scale(0.968,1)">2</text>
<text transform="translate(794.01,361.12) scale(1.237,1.25)">-</text>
<text transform="translate(800.96,362.00) scale(0.916,1)">8</text>
<text transform="translate(808.61,362.00) scale(0.835,1)">4</text>
<text transform="translate(815.96,362.00) scale(0.807,1)">k</text>
<text transform="translate(822.90,361.10) scale(0.886,0.85)">g</text>
<text transform="translate(865.80,362.00) scale(0.743,1)">L</text>
<text transform="translate(902.14,362.00) scale(0.606,1)">O</text>
<text transform="translate(909.62,362.00) scale(0.568,1)">K</text>
<text transform="translate(502.51,381.40) scale(0.963,1)">5</text>
<text transform="translate(517.63,381.40) scale(0.909,1)">9</text>
<text transform="translate(523.75,377.75) scale(1.000,0.8)">″</text>
<text x="509.50" y="381.40">’</text>
<text transform="translate(654.27,381.40) scale(0.759,1)">1</text>
<text transform="translate(660.63,381.40) scale(0.958,1)">7</text>
<text transform="translate(668.08,381.40) scale(0.963,1)">5</text>
<text transform="translate(687.66,381.40) scale(0.759,1)">1</text>
<text transform="translate(694.50,381.40) scale(0.916,1)">8</text>
<text transform="translate(701.83,381.40) scale(0.916,1)">0</text>
<text transform="translate(709.54,380.51) scale(1.237,1.25)">-</text>
<text transform="translate(716.98,381.40) scale(0.759,1)">1</text>
<text transform="translate(723.82,381.40) scale(0.916,1)">8</text>
<text transform="translate(730.79,381.40) scale(0.963,1)">5</text>
<text transform="translate(746.30,381.40) scale(0.759,1)">1</text>
<text transform="translate(753.74,381.40) scale(0.840,1)">b</text>
<text transform="translate(778.97,381.40) scale(0.916,1)">8</text>
<text transform="translate(786.17,381.40) scale(0.968,1)">2</text>
<text transform="translate(794.01,380.51) scale(1.237,1.25)">-</text>
<text transform="translate(800.96,381.40) scale(0.916,1)">8</text>
<text transform="translate(808.61,381.40) scale(0.835,1)">4</text>
<text transform="translate(815.96,381.40) scale(0.807,1)">k</text>
<text transform="translate(822.90,380.50) scale(0.886,0.85)">g</text>
<text transform="translate(866.06,381.40) scale(0.759,1)">1</text>
<text transform="translate(873.28,381.40) scale(0.569,1)">X</text>
<text transform="translate(902.14,381.40) scale(0.606,1)">O</text>
<text transform="translate(909.62,381.40) scale(0.568,1)">K</text>
<text transform="translate(502.51,401.40) scale(0.963,1)">5</text>
<text transform="translate(517.63,401.40) scale(0.909,1)">9</text>
<text transform="translate(523.75,397.75) scale(1.000,0.8)">″</text>
<text x="509.50" y="401.40">’</text>
<text transform="translate(654.27,401.40) scale(0.759,1)">1</text>
<text transform="translate(660.63,401.40) scale(0.958,1)">7</text>
<text transform="translate(668.08,401.40) scale(0.963,1)">5</text>
<text transform="translate(687.66,401.40) scale(0.759,1)">1</text>
<text transform="translate(694.60,401.40) scale(0.909,1)">9</text>
<text transform="translate(701.47,401.40) scale(0.963,1)">5</text>
<text transform="translate(709.54,400.51) scale(1.237,1.25)">-</text>
<text transform="translate(716.36,401.40) scale(0.968,1)">2</text>
<text transform="translate(723.82,401.40) scale(0.916,1)">0</text>
<text transform="translate(731.15,401.40) scale(0.916,1)">0</text>
<text transform="translate(746.30,401.40) scale(0.759,1)">1</text>
<text transform="translate(753.74,401.40) scale(0.840,1)">b</text>
<text transform="translate(778.97,401.40) scale(0.916,1)">8</text>
<text transform="translate(786.30,401.40) scale(0.916,1)">8</text>
<text transform="translate(794.01,400.51) scale(1.237,1.25)">-</text>
<text transform="translate(801.06,401.40) scale(0.909,1)">9</text>
<text transform="translate(808.78,401.40) scale(0.759,1)">1</text>
<text transform="translate(815.96,401.40) scale(0.807,1)">k</text>
<text transform="translate(822.90,400.50) scale(0.886,0.85)">g</text>
<text transform="translate(866.06,401.40) scale(0.759,1)">1</text>
<text transform="translate(873.28,401.40) scale(0.569,1)">X</text>
<text transform="translate(902.14,401.40) scale(0.606,1)">O</text>
<text transform="translate(909.62,401.40) scale(0.568,1)">K</text>
<text transform="translate(502.51,421.00) scale(0.963,1)">5</text>
<text transform="translate(517.63,421.00) scale(0.909,1)">9</text>
<text transform="translate(523.75,417.35) scale(1.000,0.8)">″</text>
<text x="509.50" y="421.00">’</text>
<text transform="translate(654.27,421.00) scale(0.759,1)">1</text>
<text transform="translate(660.63,421.00) scale(0.958,1)">7</text>
<text transform="translate(668.08,421.00) scale(0.963,1)">5</text>
<text transform="translate(687.04,421.00) scale(0.968,1)">2</text>
<text transform="translate(694.50,421.00) scale(0.916,1)">8</text>
<text transform="translate(701.83,421.00) scale(0.916,1)">0</text>
<text transform="translate(709.54,420.12) scale(1.237,1.25)">-</text>
<text transform="translate(716.36,421.00) scale(0.968,1)">2</text>
<text transform="translate(723.82,421.00) scale(0.916,1)">8</text>
<text transform="translate(730.79,421.00) scale(0.963,1)">5</text>
<text transform="translate(746.30,421.00) scale(0.759,1)">1</text>
<text transform="translate(753.74,421.00) scale(0.840,1)">b</text>
<text transform="translate(779.46,421.00) scale(0.759,1)">1</text>
<text transform="translate(786.17,421.00) scale(0.968,1)">2</text>
<text transform="translate(793.15,421.00) scale(0.958,1)">7</text>
<text transform="translate(801.34,420.12) scale(1.237,1.25)">-</text>
<text transform="translate(808.78,421.00) scale(0.759,1)">1</text>
<text transform="translate(815.49,421.00) scale(0.968,1)">2</text>
<text transform="translate(823.05,421.00) scale(0.909,1)">9</text>
<text transform="translate(830.62,421.00) scale(0.807,1)">k</text>
<text transform="translate(837.56,420.10) scale(0.886,0.85)">g</text>
<text transform="translate(865.44,421.00) scale(0.968,1)">2</text>
<text transform="translate(873.28,421.00) scale(0.569,1)">X</text>
<text transform="translate(902.14,421.00) scale(0.606,1)">O</text>
<text transform="translate(909.62,421.00) scale(0.568,1)">K</text>
<text transform="translate(502.51,441.00) scale(0.963,1)">5</text>
<text transform="translate(517.63,441.00) scale(0.909,1)">9</text>
<text transform="translate(523.75,437.35) scale(1.000,0.8)">″</text>
<text x="509.50" y="441.00">’</text>
<text transform="translate(654.27,441.00) scale(0.759,1)">1</text>
<text transform="translate(660.63,441.00) scale(0.958,1)">7</text>
<text transform="translate(668.08,441.00) scale(0.963,1)">5</text>
<text transform="translate(687.66,441.00) scale(0.759,1)">1</text>
<text transform="translate(694.43,441.00) scale(0.908,1)">6</text>
<text transform="translate(701.83,441.00) scale(0.916,1)">0</text>
<text transform="translate(709.54,440.12) scale(1.237,1.25)">-</text>
<text transform="translate(716.98,441.00) scale(0.759,1)">1</text>
<text transform="translate(723.75,441.00) scale(0.908,1)">6</text>
<text transform="translate(730.79,441.00) scale(0.963,1)">5</text>
<text transform="translate(746.30,441.00) scale(0.759,1)">1</text>
<text transform="translate(753.74,441.00) scale(0.840,1)">b</text>
<text transform="translate(778.49,441.00) scale(0.958,1)">7</text>
<text transform="translate(786.13,441.00) scale(0.939,1)">3</text>
<text transform="translate(794.01,440.12) scale(1.237,1.25)">-</text>
<text transform="translate(800.48,441.00) scale(0.958,1)">7</text>
<text transform="translate(807.93,441.00) scale(0.963,1)">5</text>
<text transform="translate(815.96,441.00) scale(0.807,1)">k</text>
<text transform="translate(822.90,440.10) scale(0.886,0.85)">g</text>
<text transform="translate(865.95,441.00) scale(0.569,1)">X</text>
<text transform="translate(873.13,441.00) scale(0.743,1)">L</text>
<text transform="translate(902.14,441.00) scale(0.606,1)">O</text>
<text transform="translate(909.62,441.00) scale(0.568,1)">K</text>
<text transform="translate(502.51,460.80) scale(0.963,1)">5</text>
<text transform="translate(517.63,460.80) scale(0.909,1)">9</text>
<text transform="translate(523.75,457.15) scale(1.000,0.8)">″</text>
<text x="509.50" y="460.80">’</text>
<text transform="translate(654.27,460.80) scale(0.759,1)">1</text>
<text transform="translate(660.63,460.80) scale(0.958,1)">7</text>
<text transform="translate(668.08,460.80) scale(0.963,1)">5</text>
<text transform="translate(687.04,460.80) scale(0.968,1)">2</text>
<text transform="translate(694.99,460.80) scale(0.759,1)">1</text>
<text transform="translate(701.83,460.80) scale(0.916,1)">0</text>
<text transform="translate(709.54,459.92) scale(1.237,1.25)">-</text>
<text transform="translate(716.36,460.80) scale(0.968,1)">2</text>
<text transform="translate(724.31,460.80) scale(0.759,1)">1</text>
<text transform="translate(730.79,460.80) scale(0.963,1)">5</text>
<text transform="translate(746.30,460.80) scale(0.759,1)">1</text>
<text transform="translate(753.74,460.80) scale(0.840,1)">b</text>
<text transform="translate(779.07,460.80) scale(0.909,1)">9</text>
<text transform="translate(785.94,460.80) scale(0.963,1)">5</text>
<text transform="translate(794.01,459.92) scale(1.237,1.25)">-</text>
<text transform="translate(801.06,460.80) scale(0.909,1)">9</text>
<text transform="translate(808.29,460.80) scale(0.916,1)">8</text>
<text transform="translate(815.96,460.80) scale(0.807,1)">k</text>
<text transform="translate(822.90,459.90) scale(0.886,0.85)">g</text>
<text transform="translate(865.95,460.80) scale(0.569,1)">X</text>
<text transform="translate(873.13,460.80) scale(0.743,1)">L</text>
<text transform="translate(902.14,460.80) scale(0.606,1)">O</text>
<text transform="translate(909.62,460.80) scale(0.568,1)">K</text>
<text transform="translate(502.80,480.50) scale(0.908,1)">6</text>
<text transform="translate(517.53,480.50) scale(0.916,1)">0</text>
<text transform="translate(523.75,476.85) scale(1.000,0.8)">″</text>
<text x="509.50" y="480.50">’</text>
<text transform="translate(654.27,480.50) scale(0.759,1)">1</text>
<text transform="translate(661.11,480.50) scale(0.916,1)">8</text>
<text transform="translate(668.27,480.50) scale(0.939,1)">3</text>
<text transform="translate(687.04,480.50) scale(0.968,1)">2</text>
<text transform="translate(694.02,480.50) scale(0.958,1)">7</text>
<text transform="translate(701.47,480.50) scale(0.963,1)">5</text>
<text transform="translate(709.54,479.62) scale(1.237,1.25)">-</text>
<text transform="translate(716.36,480.50) scale(0.968,1)">2</text>
<text transform="translate(723.82,480.50) scale(0.916,1)">8</text>
<text transform="translate(731.15,480.50) scale(0.916,1)">0</text>
<text transform="translate(746.30,480.50) scale(0.759,1)">1</text>
<text transform="translate(753.74,480.50) scale(0.840,1)">b</text>
<text transform="translate(779.46,480.50) scale(0.759,1)">1</text>
<text transform="translate(786.17,480.50) scale(0.968,1)">2</text>
<text transform="translate(793.27,480.50) scale(0.963,1)">5</text>
<text transform="translate(801.34,479.62) scale(1.237,1.25)">-</text>
<text transform="translate(808.78,480.50) scale(0.759,1)">1</text>
<text transform="translate(815.49,480.50) scale(0.968,1)">2</text>
<text transform="translate(822.47,480.50) scale(0.958,1)">7</text>
<text transform="translate(830.62,480.50) scale(0.807,1)">k</text>
<text transform="translate(837.56,479.60) scale(0.886,0.85)">g</text>
<text transform="translate(865.40,480.50) scale(0.939,1)">3</text>
<text transform="translate(873.28,480.50) scale(0.569,1)">X</text>
<text transform="translate(902.14,480.50) scale(0.606,1)">O</text>
<text transform="translate(909.62,480.50) scale(0.568,1)">K</text>
<text transform="translate(502.80,499.30) scale(0.908,1)">6</text>
<text transform="translate(517.53,499.30) scale(0.916,1)">0</text>
<text transform="translate(523.75,495.65) scale(1.000,0.8)">″</text>
<text x="509.50" y="499.30">’</text>
<text transform="translate(654.27,499.30) scale(0.759,1)">1</text>
<text transform="translate(661.11,499.30) scale(0.916,1)">8</text>
<text transform="translate(668.27,499.30) scale(0.939,1)">3</text>
<text transform="translate(687.04,499.30) scale(0.968,1)">2</text>
<text transform="translate(694.50,499.30) scale(0.916,1)">0</text>
<text transform="translate(701.83,499.30) scale(0.916,1)">0</text>
<text transform="translate(709.54,498.42) scale(1.237,1.25)">-</text>
<text transform="translate(716.36,499.30) scale(0.968,1)">2</text>
<text transform="translate(723.82,499.30) scale(0.916,1)">0</text>
<text transform="translate(730.79,499.30) scale(0.963,1)">5</text>
<text transform="translate(746.30,499.30) scale(0.759,1)">1</text>
<text transform="translate(753.74,499.30) scale(0.840,1)">b</text>
<text transform="translate(779.07,499.30) scale(0.909,1)">9</text>
<text transform="translate(786.79,499.30) scale(0.759,1)">1</text>
<text transform="translate(794.01,498.42) scale(1.237,1.25)">-</text>
<text transform="translate(801.06,499.30) scale(0.909,1)">9</text>
<text transform="translate(808.12,499.30) scale(0.939,1)">3</text>
<text transform="translate(815.96,499.30) scale(0.807,1)">k</text>
<text transform="translate(822.90,498.40) scale(0.886,0.85)">g</text>
<text transform="translate(865.80,499.30) scale(0.743,1)">L</text>
<text transform="translate(902.14,499.30) scale(0.606,1)">O</text>
<text transform="translate(909.62,499.30) scale(0.568,1)">K</text>
</g>
<line x1="935.6" y1="68.8" x2="935.6" y2="87.2" stroke="#5aa860" stroke-width="1"/>
<rect x="21.5" y="516.3" width="920" height="100" fill="none" stroke="#000" stroke-width="2"/>
<g font-family="Liberation Serif, serif" font-size="21.4" fill="#000" stroke="#000" stroke-width="0.4" transform="translate(108.2,0) scale(1.0865,1)">
<text x="0" y="545.0">The above data is base on the reviews figures and is suitable for most people.</text>
<text x="0" y="568.2">It is for referent only! Please choose the size according to your waist and height.</text>
<text x="0" y="591.4">If you have any questions, please contact the seller&#x27;s customer service!</text>
</g>
<line x1="22.5" y1="599.5" x2="940.5" y2="599.5" stroke="#e2e2e2" stroke-width="1"/>
</svg></body></html>
